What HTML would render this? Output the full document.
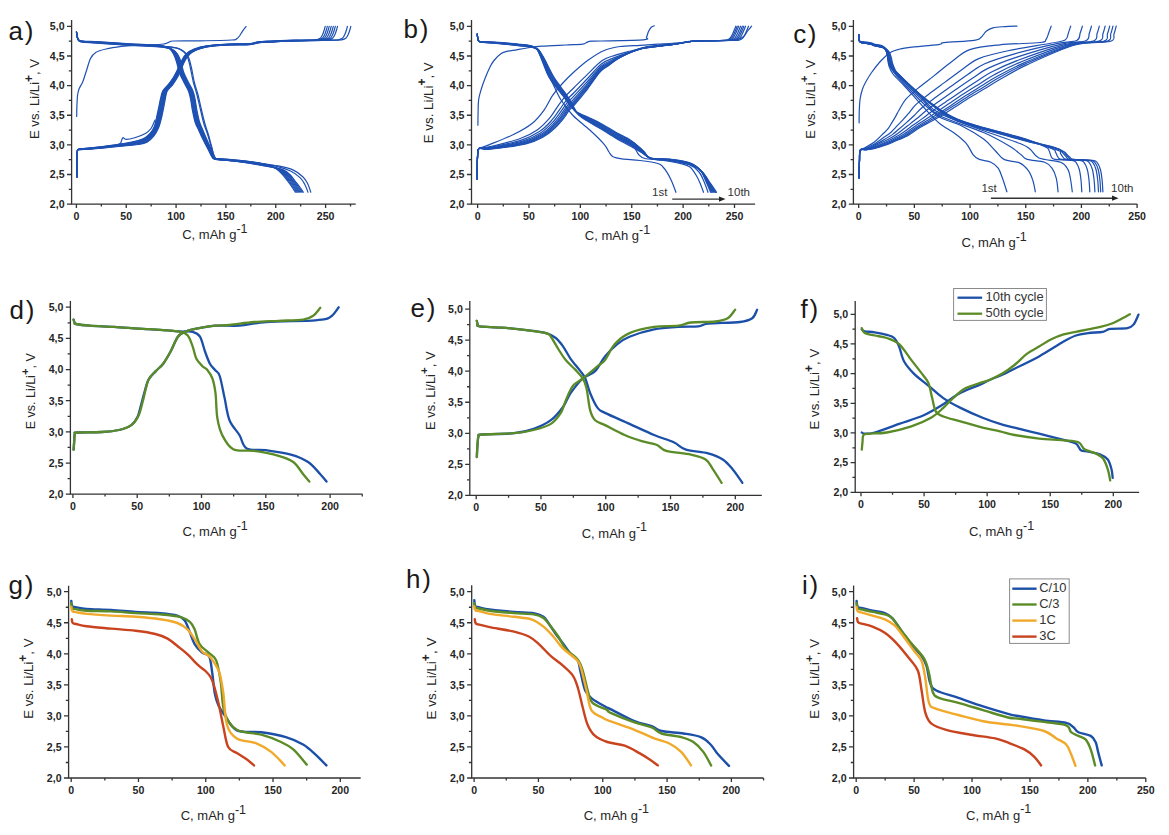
<!DOCTYPE html>
<html><head><meta charset="utf-8"><title>Figure</title>
<style>
html,body{margin:0;padding:0;background:#fff;}
body{width:1169px;height:835px;overflow:hidden;}
svg{display:block;font-family:"Liberation Sans",sans-serif;}
</style></head>
<body>
<svg width="1169" height="835" viewBox="0 0 1169 835">
<rect width="1169" height="835" fill="#fff"/>
<path d="M71.6 20 L71.6 204.1 L355.7 204.1" stroke="#333333" stroke-width="1.3" fill="none"/>
<text x="64.6" y="207.9" font-size="10.6" font-weight="bold" text-anchor="end" fill="#262626">2,0</text>
<text x="64.6" y="178.28" font-size="10.6" font-weight="bold" text-anchor="end" fill="#262626">2,5</text>
<text x="64.6" y="148.67" font-size="10.6" font-weight="bold" text-anchor="end" fill="#262626">3,0</text>
<text x="64.6" y="119.05" font-size="10.6" font-weight="bold" text-anchor="end" fill="#262626">3,5</text>
<text x="64.6" y="89.43" font-size="10.6" font-weight="bold" text-anchor="end" fill="#262626">4,0</text>
<text x="64.6" y="59.82" font-size="10.6" font-weight="bold" text-anchor="end" fill="#262626">4,5</text>
<text x="64.6" y="30.2" font-size="10.6" font-weight="bold" text-anchor="end" fill="#262626">5,0</text>
<text x="76.4" y="220" font-size="10.6" font-weight="bold" text-anchor="middle" fill="#262626">0</text>
<text x="126.24" y="220" font-size="10.6" font-weight="bold" text-anchor="middle" fill="#262626">50</text>
<text x="176.08" y="220" font-size="10.6" font-weight="bold" text-anchor="middle" fill="#262626">100</text>
<text x="225.92" y="220" font-size="10.6" font-weight="bold" text-anchor="middle" fill="#262626">150</text>
<text x="275.76" y="220" font-size="10.6" font-weight="bold" text-anchor="middle" fill="#262626">200</text>
<text x="325.6" y="220" font-size="10.6" font-weight="bold" text-anchor="middle" fill="#262626">250</text>
<path d="M67 204.1 H71.6 M68.8 189.29 H71.6 M67 174.48 H71.6 M68.8 159.67 H71.6 M67 144.87 H71.6 M68.8 130.06 H71.6 M67 115.25 H71.6 M68.8 100.44 H71.6 M67 85.63 H71.6 M68.8 70.83 H71.6 M67 56.02 H71.6 M68.8 41.21 H71.6 M67 26.4 H71.6 M76.4 204.1 V208 M126.24 204.1 V208 M176.08 204.1 V208 M225.92 204.1 V208 M275.76 204.1 V208 M325.6 204.1 V208 M101.32 204.1 V206.5 M151.16 204.1 V206.5 M201 204.1 V206.5 M250.84 204.1 V206.5 M300.68 204.1 V206.5 M350.52 204.1 V206.5" stroke="#333333" stroke-width="1.3" fill="none"/>
<text x="8.6" y="40.1" font-size="26" font-weight="normal" text-anchor="start" fill="#1a1a1a" letter-spacing="1.6">a)</text>
<text transform="translate(39.4 139.1) rotate(-90)" font-size="13.2" fill="#262626">E vs. Li/Li<tspan dy="-6.34" font-size="11.88" font-weight="bold">+</tspan><tspan dy="6.34">, V</tspan></text>
<text x="182.2" y="238.8" font-size="13" fill="#262626">C, mAh g<tspan dy="-6.3" font-size="12.5">-1</tspan></text>
<path d="M471.5 20 L471.5 204.1 L755.1 204.1" stroke="#333333" stroke-width="1.3" fill="none"/>
<text x="464.5" y="207.9" font-size="10.6" font-weight="bold" text-anchor="end" fill="#262626">2,0</text>
<text x="464.5" y="178.28" font-size="10.6" font-weight="bold" text-anchor="end" fill="#262626">2,5</text>
<text x="464.5" y="148.67" font-size="10.6" font-weight="bold" text-anchor="end" fill="#262626">3,0</text>
<text x="464.5" y="119.05" font-size="10.6" font-weight="bold" text-anchor="end" fill="#262626">3,5</text>
<text x="464.5" y="89.43" font-size="10.6" font-weight="bold" text-anchor="end" fill="#262626">4,0</text>
<text x="464.5" y="59.82" font-size="10.6" font-weight="bold" text-anchor="end" fill="#262626">4,5</text>
<text x="464.5" y="30.2" font-size="10.6" font-weight="bold" text-anchor="end" fill="#262626">5,0</text>
<text x="477.6" y="220" font-size="10.6" font-weight="bold" text-anchor="middle" fill="#262626">0</text>
<text x="528.98" y="220" font-size="10.6" font-weight="bold" text-anchor="middle" fill="#262626">50</text>
<text x="580.36" y="220" font-size="10.6" font-weight="bold" text-anchor="middle" fill="#262626">100</text>
<text x="631.74" y="220" font-size="10.6" font-weight="bold" text-anchor="middle" fill="#262626">150</text>
<text x="683.12" y="220" font-size="10.6" font-weight="bold" text-anchor="middle" fill="#262626">200</text>
<text x="734.5" y="220" font-size="10.6" font-weight="bold" text-anchor="middle" fill="#262626">250</text>
<path d="M466.9 204.1 H471.5 M468.7 189.29 H471.5 M466.9 174.48 H471.5 M468.7 159.67 H471.5 M466.9 144.87 H471.5 M468.7 130.06 H471.5 M466.9 115.25 H471.5 M468.7 100.44 H471.5 M466.9 85.63 H471.5 M468.7 70.83 H471.5 M466.9 56.02 H471.5 M468.7 41.21 H471.5 M466.9 26.4 H471.5 M477.6 204.1 V208 M528.98 204.1 V208 M580.36 204.1 V208 M631.74 204.1 V208 M683.12 204.1 V208 M734.5 204.1 V208 M503.29 204.1 V206.5 M554.67 204.1 V206.5 M606.05 204.1 V206.5 M657.43 204.1 V206.5 M708.81 204.1 V206.5" stroke="#333333" stroke-width="1.3" fill="none"/>
<text x="403.6" y="38" font-size="26" font-weight="normal" text-anchor="start" fill="#1a1a1a" letter-spacing="1.6">b)</text>
<text transform="translate(432.7 143.2) rotate(-90)" font-size="13.3" fill="#262626">E vs. Li/Li<tspan dy="-6.38" font-size="11.97" font-weight="bold">+</tspan><tspan dy="6.38">, V</tspan></text>
<text x="584.8" y="240" font-size="13" fill="#262626">C, mAh g<tspan dy="-6.3" font-size="12.5">-1</tspan></text>
<path d="M853.4 20 L853.4 204.1 L1137.1 204.1" stroke="#333333" stroke-width="1.3" fill="none"/>
<text x="846.4" y="207.9" font-size="10.6" font-weight="bold" text-anchor="end" fill="#262626">2,0</text>
<text x="846.4" y="178.28" font-size="10.6" font-weight="bold" text-anchor="end" fill="#262626">2,5</text>
<text x="846.4" y="148.67" font-size="10.6" font-weight="bold" text-anchor="end" fill="#262626">3,0</text>
<text x="846.4" y="119.05" font-size="10.6" font-weight="bold" text-anchor="end" fill="#262626">3,5</text>
<text x="846.4" y="89.43" font-size="10.6" font-weight="bold" text-anchor="end" fill="#262626">4,0</text>
<text x="846.4" y="59.82" font-size="10.6" font-weight="bold" text-anchor="end" fill="#262626">4,5</text>
<text x="846.4" y="30.2" font-size="10.6" font-weight="bold" text-anchor="end" fill="#262626">5,0</text>
<text x="858.7" y="220" font-size="10.6" font-weight="bold" text-anchor="middle" fill="#262626">0</text>
<text x="914.38" y="220" font-size="10.6" font-weight="bold" text-anchor="middle" fill="#262626">50</text>
<text x="970.06" y="220" font-size="10.6" font-weight="bold" text-anchor="middle" fill="#262626">100</text>
<text x="1025.74" y="220" font-size="10.6" font-weight="bold" text-anchor="middle" fill="#262626">150</text>
<text x="1081.42" y="220" font-size="10.6" font-weight="bold" text-anchor="middle" fill="#262626">200</text>
<text x="1137.1" y="220" font-size="10.6" font-weight="bold" text-anchor="middle" fill="#262626">250</text>
<path d="M848.8 204.1 H853.4 M850.6 189.29 H853.4 M848.8 174.48 H853.4 M850.6 159.67 H853.4 M848.8 144.87 H853.4 M850.6 130.06 H853.4 M848.8 115.25 H853.4 M850.6 100.44 H853.4 M848.8 85.63 H853.4 M850.6 70.83 H853.4 M848.8 56.02 H853.4 M850.6 41.21 H853.4 M848.8 26.4 H853.4 M858.7 204.1 V208 M914.38 204.1 V208 M970.06 204.1 V208 M1025.74 204.1 V208 M1081.42 204.1 V208 M1137.1 204.1 V208 M886.54 204.1 V206.5 M942.22 204.1 V206.5 M997.9 204.1 V206.5 M1053.58 204.1 V206.5 M1109.26 204.1 V206.5" stroke="#333333" stroke-width="1.3" fill="none"/>
<text x="793.2" y="43" font-size="26" font-weight="normal" text-anchor="start" fill="#1a1a1a" letter-spacing="1.6">c)</text>
<text transform="translate(814.6 138.7) rotate(-90)" font-size="13" fill="#262626">E vs. Li/Li<tspan dy="-6.24" font-size="11.7" font-weight="bold">+</tspan><tspan dy="6.24">, V</tspan></text>
<text x="961.5" y="246.9" font-size="13" fill="#262626">C, mAh g<tspan dy="-6.3" font-size="12.5">-1</tspan></text>
<path d="M70.4 301.1 L70.4 494.2 L362.6 494.2" stroke="#333333" stroke-width="1.3" fill="none"/>
<text x="63.4" y="498" font-size="10.6" font-weight="bold" text-anchor="end" fill="#262626">2,0</text>
<text x="63.4" y="466.83" font-size="10.6" font-weight="bold" text-anchor="end" fill="#262626">2,5</text>
<text x="63.4" y="435.67" font-size="10.6" font-weight="bold" text-anchor="end" fill="#262626">3,0</text>
<text x="63.4" y="404.5" font-size="10.6" font-weight="bold" text-anchor="end" fill="#262626">3,5</text>
<text x="63.4" y="373.33" font-size="10.6" font-weight="bold" text-anchor="end" fill="#262626">4,0</text>
<text x="63.4" y="342.17" font-size="10.6" font-weight="bold" text-anchor="end" fill="#262626">4,5</text>
<text x="63.4" y="311" font-size="10.6" font-weight="bold" text-anchor="end" fill="#262626">5,0</text>
<text x="72.9" y="510.1" font-size="10.6" font-weight="bold" text-anchor="middle" fill="#262626">0</text>
<text x="137.2" y="510.1" font-size="10.6" font-weight="bold" text-anchor="middle" fill="#262626">50</text>
<text x="201.5" y="510.1" font-size="10.6" font-weight="bold" text-anchor="middle" fill="#262626">100</text>
<text x="265.8" y="510.1" font-size="10.6" font-weight="bold" text-anchor="middle" fill="#262626">150</text>
<text x="330.1" y="510.1" font-size="10.6" font-weight="bold" text-anchor="middle" fill="#262626">200</text>
<path d="M65.8 494.2 H70.4 M67.6 478.62 H70.4 M65.8 463.03 H70.4 M67.6 447.45 H70.4 M65.8 431.87 H70.4 M67.6 416.28 H70.4 M65.8 400.7 H70.4 M67.6 385.12 H70.4 M65.8 369.53 H70.4 M67.6 353.95 H70.4 M65.8 338.37 H70.4 M67.6 322.78 H70.4 M65.8 307.2 H70.4 M72.9 494.2 V498.1 M137.2 494.2 V498.1 M201.5 494.2 V498.1 M265.8 494.2 V498.1 M330.1 494.2 V498.1 M105.05 494.2 V496.6 M169.35 494.2 V496.6 M233.65 494.2 V496.6 M297.95 494.2 V496.6 M362.25 494.2 V496.6" stroke="#333333" stroke-width="1.3" fill="none"/>
<text x="9.6" y="318.5" font-size="26" font-weight="normal" text-anchor="start" fill="#1a1a1a" letter-spacing="1.6">d)</text>
<text transform="translate(35 429.3) rotate(-90)" font-size="12.5" fill="#262626">E vs. Li/Li<tspan dy="-6" font-size="11.25" font-weight="bold">+</tspan><tspan dy="6">, V</tspan></text>
<text x="182.5" y="536.2" font-size="13" fill="#262626">C, mAh g<tspan dy="-6.3" font-size="12.5">-1</tspan></text>
<path d="M469.8 301.1 L469.8 495.4 L761.8 495.4" stroke="#333333" stroke-width="1.3" fill="none"/>
<text x="462.8" y="499.2" font-size="10.6" font-weight="bold" text-anchor="end" fill="#262626">2,0</text>
<text x="462.8" y="468.15" font-size="10.6" font-weight="bold" text-anchor="end" fill="#262626">2,5</text>
<text x="462.8" y="437.1" font-size="10.6" font-weight="bold" text-anchor="end" fill="#262626">3,0</text>
<text x="462.8" y="406.05" font-size="10.6" font-weight="bold" text-anchor="end" fill="#262626">3,5</text>
<text x="462.8" y="375" font-size="10.6" font-weight="bold" text-anchor="end" fill="#262626">4,0</text>
<text x="462.8" y="343.95" font-size="10.6" font-weight="bold" text-anchor="end" fill="#262626">4,5</text>
<text x="462.8" y="312.9" font-size="10.6" font-weight="bold" text-anchor="end" fill="#262626">5,0</text>
<text x="476.2" y="511.3" font-size="10.6" font-weight="bold" text-anchor="middle" fill="#262626">0</text>
<text x="540.98" y="511.3" font-size="10.6" font-weight="bold" text-anchor="middle" fill="#262626">50</text>
<text x="605.75" y="511.3" font-size="10.6" font-weight="bold" text-anchor="middle" fill="#262626">100</text>
<text x="670.52" y="511.3" font-size="10.6" font-weight="bold" text-anchor="middle" fill="#262626">150</text>
<text x="735.3" y="511.3" font-size="10.6" font-weight="bold" text-anchor="middle" fill="#262626">200</text>
<path d="M465.2 495.4 H469.8 M467 479.88 H469.8 M465.2 464.35 H469.8 M467 448.82 H469.8 M465.2 433.3 H469.8 M467 417.78 H469.8 M465.2 402.25 H469.8 M467 386.73 H469.8 M465.2 371.2 H469.8 M467 355.68 H469.8 M465.2 340.15 H469.8 M467 324.62 H469.8 M465.2 309.1 H469.8 M476.2 495.4 V499.3 M540.98 495.4 V499.3 M605.75 495.4 V499.3 M670.52 495.4 V499.3 M735.3 495.4 V499.3 M508.59 495.4 V497.8 M573.36 495.4 V497.8 M638.14 495.4 V497.8 M702.91 495.4 V497.8" stroke="#333333" stroke-width="1.3" fill="none"/>
<text x="410.6" y="316.5" font-size="26" font-weight="normal" text-anchor="start" fill="#1a1a1a" letter-spacing="1.6">e)</text>
<text transform="translate(434.6 429.9) rotate(-90)" font-size="12.9" fill="#262626">E vs. Li/Li<tspan dy="-6.19" font-size="11.61" font-weight="bold">+</tspan><tspan dy="6.19">, V</tspan></text>
<text x="581.7" y="537.5" font-size="13" fill="#262626">C, mAh g<tspan dy="-6.3" font-size="12.5">-1</tspan></text>
<path d="M855.2 301.1 L855.2 492.3 L1139.1 492.3" stroke="#333333" stroke-width="1.3" fill="none"/>
<text x="848.2" y="496.1" font-size="10.6" font-weight="bold" text-anchor="end" fill="#262626">2,0</text>
<text x="848.2" y="466.43" font-size="10.6" font-weight="bold" text-anchor="end" fill="#262626">2,5</text>
<text x="848.2" y="436.77" font-size="10.6" font-weight="bold" text-anchor="end" fill="#262626">3,0</text>
<text x="848.2" y="407.1" font-size="10.6" font-weight="bold" text-anchor="end" fill="#262626">3,5</text>
<text x="848.2" y="377.43" font-size="10.6" font-weight="bold" text-anchor="end" fill="#262626">4,0</text>
<text x="848.2" y="347.77" font-size="10.6" font-weight="bold" text-anchor="end" fill="#262626">4,5</text>
<text x="848.2" y="318.1" font-size="10.6" font-weight="bold" text-anchor="end" fill="#262626">5,0</text>
<text x="861" y="508.2" font-size="10.6" font-weight="bold" text-anchor="middle" fill="#262626">0</text>
<text x="924.08" y="508.2" font-size="10.6" font-weight="bold" text-anchor="middle" fill="#262626">50</text>
<text x="987.15" y="508.2" font-size="10.6" font-weight="bold" text-anchor="middle" fill="#262626">100</text>
<text x="1050.22" y="508.2" font-size="10.6" font-weight="bold" text-anchor="middle" fill="#262626">150</text>
<text x="1113.3" y="508.2" font-size="10.6" font-weight="bold" text-anchor="middle" fill="#262626">200</text>
<path d="M850.6 492.3 H855.2 M852.4 477.47 H855.2 M850.6 462.63 H855.2 M852.4 447.8 H855.2 M850.6 432.97 H855.2 M852.4 418.13 H855.2 M850.6 403.3 H855.2 M852.4 388.47 H855.2 M850.6 373.63 H855.2 M852.4 358.8 H855.2 M850.6 343.97 H855.2 M852.4 329.13 H855.2 M850.6 314.3 H855.2 M861 492.3 V496.2 M924.08 492.3 V496.2 M987.15 492.3 V496.2 M1050.22 492.3 V496.2 M1113.3 492.3 V496.2 M892.54 492.3 V494.7 M955.61 492.3 V494.7 M1018.69 492.3 V494.7 M1081.76 492.3 V494.7" stroke="#333333" stroke-width="1.3" fill="none"/>
<text x="800.6" y="318.2" font-size="26" font-weight="normal" text-anchor="start" fill="#1a1a1a" letter-spacing="1.6">f)</text>
<text transform="translate(819.2 429.4) rotate(-90)" font-size="13.25" fill="#262626">E vs. Li/Li<tspan dy="-6.36" font-size="11.93" font-weight="bold">+</tspan><tspan dy="6.36">, V</tspan></text>
<text x="968.9" y="536" font-size="13" fill="#262626">C, mAh g<tspan dy="-6.3" font-size="12.5">-1</tspan></text>
<path d="M68.6 585.8 L68.6 778 L360.7 778" stroke="#333333" stroke-width="1.3" fill="none"/>
<text x="61.6" y="781.8" font-size="10.6" font-weight="bold" text-anchor="end" fill="#262626">2,0</text>
<text x="61.6" y="750.75" font-size="10.6" font-weight="bold" text-anchor="end" fill="#262626">2,5</text>
<text x="61.6" y="719.7" font-size="10.6" font-weight="bold" text-anchor="end" fill="#262626">3,0</text>
<text x="61.6" y="688.65" font-size="10.6" font-weight="bold" text-anchor="end" fill="#262626">3,5</text>
<text x="61.6" y="657.6" font-size="10.6" font-weight="bold" text-anchor="end" fill="#262626">4,0</text>
<text x="61.6" y="626.55" font-size="10.6" font-weight="bold" text-anchor="end" fill="#262626">4,5</text>
<text x="61.6" y="595.5" font-size="10.6" font-weight="bold" text-anchor="end" fill="#262626">5,0</text>
<text x="71.2" y="793.9" font-size="10.6" font-weight="bold" text-anchor="middle" fill="#262626">0</text>
<text x="138.47" y="793.9" font-size="10.6" font-weight="bold" text-anchor="middle" fill="#262626">50</text>
<text x="205.75" y="793.9" font-size="10.6" font-weight="bold" text-anchor="middle" fill="#262626">100</text>
<text x="273.02" y="793.9" font-size="10.6" font-weight="bold" text-anchor="middle" fill="#262626">150</text>
<text x="340.3" y="793.9" font-size="10.6" font-weight="bold" text-anchor="middle" fill="#262626">200</text>
<path d="M64 778 H68.6 M65.8 762.48 H68.6 M64 746.95 H68.6 M65.8 731.43 H68.6 M64 715.9 H68.6 M65.8 700.38 H68.6 M64 684.85 H68.6 M65.8 669.33 H68.6 M64 653.8 H68.6 M65.8 638.28 H68.6 M64 622.75 H68.6 M65.8 607.23 H68.6 M64 591.7 H68.6 M71.2 778 V781.9 M138.47 778 V781.9 M205.75 778 V781.9 M273.02 778 V781.9 M340.3 778 V781.9 M104.84 778 V780.4 M172.11 778 V780.4 M239.39 778 V780.4 M306.66 778 V780.4" stroke="#333333" stroke-width="1.3" fill="none"/>
<text x="8.6" y="594.1" font-size="26" font-weight="normal" text-anchor="start" fill="#1a1a1a" letter-spacing="1.6">g)</text>
<text transform="translate(33.2 718.8) rotate(-90)" font-size="13.2" fill="#262626">E vs. Li/Li<tspan dy="-6.34" font-size="11.88" font-weight="bold">+</tspan><tspan dy="6.34">, V</tspan></text>
<text x="180.7" y="820" font-size="13" fill="#262626">C, mAh g<tspan dy="-6.3" font-size="12.5">-1</tspan></text>
<path d="M471.7 585.3 L471.7 778 L763.5 778" stroke="#333333" stroke-width="1.3" fill="none"/>
<text x="464.7" y="781.8" font-size="10.6" font-weight="bold" text-anchor="end" fill="#262626">2,0</text>
<text x="464.7" y="750.75" font-size="10.6" font-weight="bold" text-anchor="end" fill="#262626">2,5</text>
<text x="464.7" y="719.7" font-size="10.6" font-weight="bold" text-anchor="end" fill="#262626">3,0</text>
<text x="464.7" y="688.65" font-size="10.6" font-weight="bold" text-anchor="end" fill="#262626">3,5</text>
<text x="464.7" y="657.6" font-size="10.6" font-weight="bold" text-anchor="end" fill="#262626">4,0</text>
<text x="464.7" y="626.55" font-size="10.6" font-weight="bold" text-anchor="end" fill="#262626">4,5</text>
<text x="464.7" y="595.5" font-size="10.6" font-weight="bold" text-anchor="end" fill="#262626">5,0</text>
<text x="474.1" y="793.9" font-size="10.6" font-weight="bold" text-anchor="middle" fill="#262626">0</text>
<text x="538.43" y="793.9" font-size="10.6" font-weight="bold" text-anchor="middle" fill="#262626">50</text>
<text x="602.75" y="793.9" font-size="10.6" font-weight="bold" text-anchor="middle" fill="#262626">100</text>
<text x="667.08" y="793.9" font-size="10.6" font-weight="bold" text-anchor="middle" fill="#262626">150</text>
<text x="731.4" y="793.9" font-size="10.6" font-weight="bold" text-anchor="middle" fill="#262626">200</text>
<path d="M467.1 778 H471.7 M468.9 762.48 H471.7 M467.1 746.95 H471.7 M468.9 731.43 H471.7 M467.1 715.9 H471.7 M468.9 700.38 H471.7 M467.1 684.85 H471.7 M468.9 669.33 H471.7 M467.1 653.8 H471.7 M468.9 638.28 H471.7 M467.1 622.75 H471.7 M468.9 607.23 H471.7 M467.1 591.7 H471.7 M474.1 778 V781.9 M538.43 778 V781.9 M602.75 778 V781.9 M667.08 778 V781.9 M731.4 778 V781.9 M506.26 778 V780.4 M570.59 778 V780.4 M634.91 778 V780.4 M699.24 778 V780.4 M763.56 778 V780.4" stroke="#333333" stroke-width="1.3" fill="none"/>
<text x="406.1" y="588" font-size="26" font-weight="normal" text-anchor="start" fill="#1a1a1a" letter-spacing="1.6">h)</text>
<text transform="translate(436.4 719.4) rotate(-90)" font-size="13.45" fill="#262626">E vs. Li/Li<tspan dy="-6.46" font-size="12.11" font-weight="bold">+</tspan><tspan dy="6.46">, V</tspan></text>
<text x="583.7" y="819.7" font-size="13" fill="#262626">C, mAh g<tspan dy="-6.3" font-size="12.5">-1</tspan></text>
<path d="M853.6 585.6 L853.6 778 L1145.8 778" stroke="#333333" stroke-width="1.3" fill="none"/>
<text x="846.6" y="781.8" font-size="10.6" font-weight="bold" text-anchor="end" fill="#262626">2,0</text>
<text x="846.6" y="750.75" font-size="10.6" font-weight="bold" text-anchor="end" fill="#262626">2,5</text>
<text x="846.6" y="719.7" font-size="10.6" font-weight="bold" text-anchor="end" fill="#262626">3,0</text>
<text x="846.6" y="688.65" font-size="10.6" font-weight="bold" text-anchor="end" fill="#262626">3,5</text>
<text x="846.6" y="657.6" font-size="10.6" font-weight="bold" text-anchor="end" fill="#262626">4,0</text>
<text x="846.6" y="626.55" font-size="10.6" font-weight="bold" text-anchor="end" fill="#262626">4,5</text>
<text x="846.6" y="595.5" font-size="10.6" font-weight="bold" text-anchor="end" fill="#262626">5,0</text>
<text x="856.2" y="793.9" font-size="10.6" font-weight="bold" text-anchor="middle" fill="#262626">0</text>
<text x="914.12" y="793.9" font-size="10.6" font-weight="bold" text-anchor="middle" fill="#262626">50</text>
<text x="972.04" y="793.9" font-size="10.6" font-weight="bold" text-anchor="middle" fill="#262626">100</text>
<text x="1029.96" y="793.9" font-size="10.6" font-weight="bold" text-anchor="middle" fill="#262626">150</text>
<text x="1087.88" y="793.9" font-size="10.6" font-weight="bold" text-anchor="middle" fill="#262626">200</text>
<text x="1145.8" y="793.9" font-size="10.6" font-weight="bold" text-anchor="middle" fill="#262626">250</text>
<path d="M849 778 H853.6 M850.8 762.48 H853.6 M849 746.95 H853.6 M850.8 731.43 H853.6 M849 715.9 H853.6 M850.8 700.38 H853.6 M849 684.85 H853.6 M850.8 669.33 H853.6 M849 653.8 H853.6 M850.8 638.28 H853.6 M849 622.75 H853.6 M850.8 607.23 H853.6 M849 591.7 H853.6 M856.2 778 V781.9 M914.12 778 V781.9 M972.04 778 V781.9 M1029.96 778 V781.9 M1087.88 778 V781.9 M1145.8 778 V781.9 M885.16 778 V780.4 M943.08 778 V780.4 M1001 778 V780.4 M1058.92 778 V780.4 M1116.84 778 V780.4" stroke="#333333" stroke-width="1.3" fill="none"/>
<text x="802.1" y="594.1" font-size="26" font-weight="normal" text-anchor="start" fill="#1a1a1a" letter-spacing="1.6">i)</text>
<text transform="translate(819 718.8) rotate(-90)" font-size="13.1" fill="#262626">E vs. Li/Li<tspan dy="-6.29" font-size="11.79" font-weight="bold">+</tspan><tspan dy="6.29">, V</tspan></text>
<text x="966" y="819.7" font-size="13" fill="#262626">C, mAh g<tspan dy="-6.3" font-size="12.5">-1</tspan></text>
<path d="M76.5 31.8 C76.62 32.67 76.78 35.6 77.2 37 C77.62 38.4 78.03 39.52 79 40.2 C79.97 40.88 79.5 40.83 83 41.1 C86.5 41.38 92.17 41.39 100 41.85 C107.83 42.31 121.67 43.37 130 43.85 C138.33 44.33 144.48 44.42 150 44.75 C155.52 45.08 159.85 45.23 163.1 45.85 C166.35 46.48 167.77 47.14 169.5 48.5 C171.23 49.86 172.32 51.75 173.5 54 C174.68 56.25 175.59 58.92 176.55 62 C177.51 65.08 178.05 69.17 179.25 72.5 C180.45 75.83 182.25 79 183.75 82 C185.25 85 187.13 87.77 188.25 90.5 C189.37 93.23 189.77 95.15 190.45 98.4 C191.13 101.65 191.58 106.07 192.35 110 C193.12 113.93 194.04 118.75 195.05 122 C196.06 125.25 197.33 127.08 198.4 129.5 C199.47 131.92 199.78 133 201.5 136.5 C203.22 140 206.77 146.89 208.7 150.5 C210.63 154.11 211.22 156.78 213.1 158.15 C214.98 159.52 215.72 158.35 220 158.7 C224.28 159.05 232.53 159.6 238.8 160.25 C245.07 160.9 252.86 161.88 257.6 162.6 C262.34 163.32 264.68 163.89 267.25 164.6 C269.82 165.31 271.33 166.02 273 166.85 C274.67 167.68 275.74 168.33 277.25 169.55 C278.76 170.78 280.33 172.29 282.05 174.2 C283.77 176.11 285.96 178.95 287.55 181 C289.14 183.05 290.31 184.63 291.6 186.5 C292.89 188.37 294.68 191.25 295.3 192.2" stroke="#1d50b2" stroke-width="1.2" fill="none" stroke-linejoin="round" stroke-linecap="round"/>
<path d="M76.5 31.8 C76.62 32.67 76.78 35.59 77.2 37 C77.62 38.41 78.03 39.58 79 40.29 C79.97 40.99 79.5 40.95 83 41.24 C86.5 41.54 92.17 41.59 100 42.06 C107.83 42.53 121.67 43.58 130 44.06 C138.33 44.55 144.46 44.63 150 44.96 C155.54 45.3 159.92 45.45 163.24 46.06 C166.56 46.68 168.12 47.32 169.93 48.64 C171.73 49.97 172.86 51.77 174.07 54 C175.28 56.23 176.22 58.92 177.19 62 C178.16 65.08 178.69 69.17 179.89 72.5 C181.09 75.83 182.89 79 184.39 82 C185.89 85 187.78 87.77 188.89 90.5 C190.01 93.23 190.41 95.15 191.09 98.4 C191.78 101.65 192.23 106.07 192.99 110 C193.76 113.93 194.69 118.75 195.69 122 C196.69 125.25 197.94 127.08 199 129.5 C200.06 131.92 200.38 133 202.07 136.5 C203.76 140 207.27 146.88 209.13 150.5 C210.99 154.12 211.43 156.83 213.24 158.22 C215.05 159.61 215.74 158.47 220 158.84 C224.26 159.22 232.53 159.79 238.8 160.46 C245.07 161.14 252.82 162.15 257.6 162.89 C262.38 163.62 264.8 164.19 267.46 164.89 C270.13 165.58 271.79 166.28 273.57 167.06 C275.36 167.85 276.59 168.43 278.18 169.62 C279.77 170.81 281.38 172.3 283.12 174.2 C284.86 176.1 287.02 178.95 288.62 181 C290.22 183.05 291.41 184.63 292.71 186.5 C294.02 188.37 295.82 191.25 296.44 192.2" stroke="#1d50b2" stroke-width="1.2" fill="none" stroke-linejoin="round" stroke-linecap="round"/>
<path d="M76.5 31.8 C76.62 32.67 76.78 35.57 77.2 37 C77.62 38.43 78.03 39.64 79 40.37 C79.97 41.1 79.5 41.07 83 41.39 C86.5 41.7 92.17 41.8 100 42.28 C107.83 42.76 121.67 43.8 130 44.28 C138.33 44.76 144.44 44.85 150 45.18 C155.56 45.51 159.99 45.68 163.39 46.28 C166.78 46.88 168.48 47.5 170.36 48.79 C172.23 50.07 173.4 51.8 174.64 54 C175.89 56.2 176.85 58.92 177.84 62 C178.82 65.08 179.34 69.17 180.54 72.5 C181.74 75.83 183.54 79 185.04 82 C186.54 85 188.42 87.77 189.54 90.5 C190.65 93.23 191.05 95.15 191.74 98.4 C192.42 101.65 192.87 106.07 193.64 110 C194.4 113.93 195.34 118.75 196.34 122 C197.33 125.25 198.55 127.08 199.6 129.5 C200.65 131.92 200.98 133 202.64 136.5 C204.3 140 207.77 146.87 209.56 150.5 C211.35 154.13 211.65 156.88 213.39 158.29 C215.13 159.71 215.76 158.59 220 158.99 C224.24 159.38 232.53 159.98 238.8 160.68 C245.07 161.38 252.79 162.42 257.6 163.17 C262.41 163.92 264.92 164.49 267.68 165.17 C270.44 165.86 272.24 166.52 274.14 167.28 C276.05 168.03 277.43 168.54 279.11 169.69 C280.78 170.85 282.43 172.32 284.19 174.2 C285.96 176.08 288.09 178.95 289.69 181 C291.3 183.05 292.51 184.63 293.83 186.5 C295.14 188.37 296.96 191.25 297.59 192.2" stroke="#1d50b2" stroke-width="1.2" fill="none" stroke-linejoin="round" stroke-linecap="round"/>
<path d="M76.5 31.8 C76.62 32.67 76.78 35.56 77.2 37 C77.62 38.44 78.03 39.7 79 40.46 C79.97 41.21 79.5 41.19 83 41.53 C86.5 41.87 92.17 42 100 42.49 C107.83 42.99 121.67 44.01 130 44.49 C138.33 44.98 144.41 45.06 150 45.39 C155.59 45.73 160.06 45.9 163.53 46.49 C166.99 47.08 168.84 47.68 170.79 48.93 C172.73 50.18 173.93 51.82 175.21 54 C176.5 56.18 177.48 58.92 178.48 62 C179.47 65.08 179.98 69.17 181.18 72.5 C182.38 75.83 184.18 79 185.68 82 C187.18 85 189.06 87.77 190.18 90.5 C191.3 93.23 191.7 95.15 192.38 98.4 C193.06 101.65 193.51 106.07 194.28 110 C195.05 113.93 195.99 118.75 196.98 122 C197.97 125.25 199.16 127.08 200.2 129.5 C201.24 131.92 201.58 133 203.21 136.5 C204.85 140 208.27 146.86 209.99 150.5 C211.7 154.14 211.86 156.93 213.53 158.36 C215.2 159.8 215.79 158.71 220 159.13 C224.21 159.55 232.53 160.17 238.8 160.89 C245.07 161.61 252.75 162.7 257.6 163.46 C262.45 164.22 265.04 164.78 267.89 165.46 C270.75 166.13 272.69 166.77 274.71 167.49 C276.74 168.21 278.28 168.65 280.04 169.76 C281.79 170.88 283.48 172.33 285.26 174.2 C287.05 176.07 289.15 178.95 290.76 181 C292.38 183.05 293.62 184.63 294.94 186.5 C296.27 188.37 298.1 191.25 298.73 192.2" stroke="#1d50b2" stroke-width="1.2" fill="none" stroke-linejoin="round" stroke-linecap="round"/>
<path d="M76.5 31.8 C76.62 32.67 76.78 35.54 77.2 37 C77.62 38.46 78.03 39.76 79 40.54 C79.97 41.32 79.5 41.31 83 41.67 C86.5 42.03 92.17 42.2 100 42.71 C107.83 43.21 121.67 44.22 130 44.71 C138.33 45.19 144.39 45.27 150 45.61 C155.61 45.94 160.14 46.13 163.67 46.71 C167.21 47.28 169.2 47.86 171.21 49.07 C173.23 50.29 174.47 51.85 175.79 54 C177.1 56.15 178.12 58.92 179.12 62 C180.13 65.08 180.62 69.17 181.82 72.5 C183.02 75.83 184.82 79 186.32 82 C187.82 85 189.7 87.77 190.82 90.5 C191.94 93.23 192.34 95.15 193.02 98.4 C193.7 101.65 194.15 106.07 194.92 110 C195.69 113.93 196.64 118.75 197.62 122 C198.6 125.25 199.77 127.08 200.8 129.5 C201.83 131.92 202.18 133 203.79 136.5 C205.39 140 208.77 146.84 210.41 150.5 C212.06 154.16 212.07 156.97 213.67 158.44 C215.27 159.9 215.81 158.83 220 159.27 C224.19 159.72 232.53 160.36 238.8 161.11 C245.07 161.85 252.72 162.97 257.6 163.74 C262.48 164.52 265.16 165.08 268.11 165.74 C271.05 166.4 273.14 167.03 275.29 167.71 C277.43 168.39 279.12 168.75 280.96 169.84 C282.81 170.92 284.52 172.34 286.34 174.2 C288.15 176.06 290.22 178.95 291.84 181 C293.46 183.05 294.72 184.63 296.06 186.5 C297.4 188.37 299.24 191.25 299.87 192.2" stroke="#1d50b2" stroke-width="1.2" fill="none" stroke-linejoin="round" stroke-linecap="round"/>
<path d="M76.5 31.8 C76.62 32.67 76.78 35.53 77.2 37 C77.62 38.47 78.03 39.83 79 40.63 C79.97 41.43 79.5 41.43 83 41.81 C86.5 42.2 92.17 42.4 100 42.92 C107.83 43.44 121.67 44.44 130 44.92 C138.33 45.4 144.36 45.49 150 45.82 C155.64 46.15 160.21 46.36 163.81 46.92 C167.42 47.49 169.55 48.03 171.64 49.21 C173.73 50.39 175 51.87 176.36 54 C177.71 56.13 178.75 58.92 179.76 62 C180.78 65.08 181.26 69.17 182.46 72.5 C183.66 75.83 185.46 79 186.96 82 C188.46 85 190.35 87.77 191.46 90.5 C192.58 93.23 192.98 95.15 193.66 98.4 C194.35 101.65 194.8 106.07 195.56 110 C196.33 113.93 197.29 118.75 198.26 122 C199.24 125.25 200.38 127.08 201.4 129.5 C202.42 131.92 202.78 133 204.36 136.5 C205.93 140 209.27 146.83 210.84 150.5 C212.42 154.17 212.29 157.02 213.81 158.51 C215.34 159.99 215.84 158.95 220 159.41 C224.16 159.88 232.53 160.55 238.8 161.32 C245.07 162.09 252.68 163.24 257.6 164.03 C262.52 164.81 265.28 165.38 268.32 166.03 C271.36 166.68 273.6 167.28 275.86 167.92 C278.12 168.57 279.97 168.86 281.89 169.91 C283.82 170.95 285.57 172.35 287.41 174.2 C289.24 176.05 291.28 178.95 292.91 181 C294.53 183.05 295.82 184.63 297.17 186.5 C298.52 188.37 300.37 191.25 301.01 192.2" stroke="#1d50b2" stroke-width="1.2" fill="none" stroke-linejoin="round" stroke-linecap="round"/>
<path d="M76.5 31.8 C76.62 32.67 76.78 35.51 77.2 37 C77.62 38.49 78.03 39.89 79 40.71 C79.97 41.54 79.5 41.55 83 41.96 C86.5 42.36 92.17 42.61 100 43.14 C107.83 43.67 121.67 44.65 130 45.14 C138.33 45.62 144.34 45.7 150 46.04 C155.66 46.37 160.28 46.58 163.96 47.14 C167.64 47.69 169.91 48.21 172.07 49.36 C174.23 50.5 175.54 51.89 176.93 54 C178.32 56.11 179.38 58.92 180.41 62 C181.44 65.08 181.91 69.17 183.11 72.5 C184.31 75.83 186.11 79 187.61 82 C189.11 85 190.99 87.77 192.11 90.5 C193.22 93.23 193.62 95.15 194.31 98.4 C194.99 101.65 195.44 106.07 196.21 110 C196.97 113.93 197.94 118.75 198.91 122 C199.87 125.25 201 127.08 202 129.5 C203 131.92 203.38 133 204.93 136.5 C206.47 140 209.77 146.82 211.27 150.5 C212.78 154.18 212.5 157.07 213.96 158.58 C215.41 160.09 215.86 159.06 220 159.56 C224.14 160.05 232.53 160.74 238.8 161.54 C245.07 162.33 252.64 163.52 257.6 164.31 C262.56 165.11 265.4 165.68 268.54 166.31 C271.67 166.95 274.05 167.52 276.43 168.14 C278.81 168.75 280.81 168.97 282.82 169.98 C284.83 170.99 286.62 172.36 288.48 174.2 C290.34 176.04 292.34 178.95 293.98 181 C295.61 183.05 296.92 184.63 298.29 186.5 C299.65 188.37 301.51 191.25 302.16 192.2" stroke="#1d50b2" stroke-width="1.2" fill="none" stroke-linejoin="round" stroke-linecap="round"/>
<path d="M76.5 31.8 C76.62 32.67 76.78 35.5 77.2 37 C77.62 38.5 78.03 39.95 79 40.8 C79.97 41.65 79.5 41.67 83 42.1 C86.5 42.53 92.17 42.81 100 43.35 C107.83 43.89 121.67 44.87 130 45.35 C138.33 45.83 144.32 45.92 150 46.25 C155.68 46.58 160.35 46.81 164.1 47.35 C167.85 47.89 170.27 48.39 172.5 49.5 C174.73 50.61 176.07 51.92 177.5 54 C178.93 56.08 180.01 58.92 181.05 62 C182.09 65.08 182.55 69.17 183.75 72.5 C184.95 75.83 186.75 79 188.25 82 C189.75 85 191.63 87.77 192.75 90.5 C193.87 93.23 194.27 95.15 194.95 98.4 C195.63 101.65 196.08 106.07 196.85 110 C197.62 113.93 198.59 118.75 199.55 122 C200.51 125.25 201.61 127.08 202.6 129.5 C203.59 131.92 203.98 133 205.5 136.5 C207.02 140 210.27 146.81 211.7 150.5 C213.13 154.19 212.72 157.12 214.1 158.65 C215.48 160.18 215.88 159.18 220 159.7 C224.12 160.22 232.53 160.93 238.8 161.75 C245.07 162.57 252.61 163.79 257.6 164.6 C262.59 165.41 265.52 165.97 268.75 166.6 C271.98 167.22 274.5 167.77 277 168.35 C279.5 168.93 281.66 169.08 283.75 170.05 C285.84 171.03 287.67 172.38 289.55 174.2 C291.43 176.02 293.41 178.95 295.05 181 C296.69 183.05 298.02 184.63 299.4 186.5 C300.77 188.37 302.65 191.25 303.3 192.2" stroke="#1d50b2" stroke-width="1.2" fill="none" stroke-linejoin="round" stroke-linecap="round"/>
<path d="M163.6 46.5 C165 46.58 169.48 46.65 172 47 C174.52 47.35 176.7 47.77 178.7 48.6 C180.7 49.43 182.53 50.6 184 52 C185.47 53.4 186.47 54.5 187.5 57 C188.53 59.5 189.23 62.83 190.2 67 C191.17 71.17 192.25 77.67 193.3 82 C194.35 86.33 195.33 88.5 196.5 93 C197.67 97.5 199.08 103.92 200.3 109 C201.52 114.08 202.6 119.33 203.8 123.5 C205 127.67 206.3 130.25 207.5 134 C208.7 137.75 209.92 142.33 211 146 C212.08 149.67 212.83 153.77 214 156 C215.17 158.23 214.67 158.67 218 159.4 C221.33 160.13 227.33 159.73 234 160.4 C240.67 161.07 250.93 162.42 258 163.4 C265.07 164.38 270.97 165.03 276.4 166.3 C281.83 167.57 286.67 169.12 290.6 171 C294.53 172.88 297.65 175.4 300 177.6 C302.35 179.8 303.37 181.77 304.7 184.2 C306.03 186.63 307.45 190.87 308 192.2" stroke="#1d50b2" stroke-width="1.2" fill="none" stroke-linejoin="round" stroke-linecap="round"/>
<path d="M163.6 46.5 C165 46.63 169.35 46.88 172 47.3 C174.65 47.72 177.33 48.13 179.5 49 C181.67 49.87 183.45 51 185 52.5 C186.55 54 187.72 55.42 188.8 58 C189.88 60.58 190.55 63.83 191.5 68 C192.45 72.17 193.45 78.67 194.5 83 C195.55 87.33 196.63 89.5 197.8 94 C198.97 98.5 200.3 105 201.5 110 C202.7 115 203.83 119.83 205 124 C206.17 128.17 207.42 131.33 208.5 135 C209.58 138.67 210.53 142.5 211.5 146 C212.47 149.5 213.22 153.73 214.3 156 C215.38 158.27 214.72 158.83 218 159.6 C221.28 160.37 227.33 160 234 160.6 C240.67 161.2 250.62 162.32 258 163.2 C265.38 164.08 272.4 164.75 278.3 165.9 C284.2 167.05 289.32 168.3 293.4 170.1 C297.48 171.9 300.45 174.5 302.8 176.7 C305.15 178.9 306.17 180.72 307.5 183.3 C308.83 185.88 310.25 190.72 310.8 192.2" stroke="#1d50b2" stroke-width="1.2" fill="none" stroke-linejoin="round" stroke-linecap="round"/>
<path d="M77.1 177 C77.1 174.17 77.05 164.33 77.1 160 C77.15 155.67 77.08 152.82 77.4 151 C77.72 149.18 76.9 149.62 79 149.1 C81.1 148.58 86.12 148.32 90 147.9 C93.88 147.48 96.65 147.28 102.3 146.55 C107.95 145.82 117.95 144.51 123.9 143.5 C129.85 142.49 134.48 141.46 138 140.5 C141.52 139.54 142.99 138.92 145 137.75 C147.01 136.58 148.51 135.33 150.05 133.5 C151.59 131.67 153.11 129.67 154.25 126.75 C155.39 123.83 156.11 119.46 156.9 116 C157.69 112.54 158.38 108.93 159 106 C159.62 103.07 159.97 100.9 160.6 98.4 C161.22 95.9 161.44 93.35 162.75 91 C164.06 88.65 166.66 86.58 168.45 84.3 C170.24 82.02 171.98 79.75 173.5 77.3 C175.02 74.85 176.35 72.04 177.55 69.6 C178.75 67.16 179.62 64.83 180.7 62.65 C181.77 60.47 182.59 58.38 184 56.5 C185.41 54.62 186.48 52.95 189.15 51.4 C191.82 49.85 195.88 48.27 200 47.2 C204.12 46.13 208.9 45.53 213.9 45 C218.9 44.47 223.98 44.23 230 44 C236.02 43.77 245.67 43.88 250 43.6 C254.33 43.32 254 42.65 256 42.3 C258 41.95 259.67 41.7 262 41.5 C264.33 41.3 264.5 41.32 270 41.1 C275.5 40.88 288.63 40.32 295 40.2 C301.37 40.08 304.67 40.47 308.2 40.4 C311.73 40.33 314.2 40.15 316.2 39.8 C318.2 39.45 319.13 39.18 320.2 38.3 C321.27 37.42 321.93 35.88 322.6 34.5 C323.27 33.12 323.77 31.35 324.2 30 C324.63 28.65 325.03 27 325.2 26.4" stroke="#1d50b2" stroke-width="1.2" fill="none" stroke-linejoin="round" stroke-linecap="round"/>
<path d="M77.1 177 C77.1 174.17 77.05 164.33 77.1 160 C77.15 155.67 77.08 152.8 77.4 151 C77.72 149.2 76.9 149.67 79 149.18 C81.1 148.68 86.12 148.46 90 148.05 C93.88 147.64 96.65 147.45 102.3 146.74 C107.95 146.03 117.95 144.76 123.9 143.8 C129.85 142.84 134.44 141.91 138 141 C141.56 140.09 143.17 139.5 145.25 138.31 C147.33 137.12 148.89 135.79 150.49 133.88 C152.08 131.96 153.64 129.79 154.81 126.81 C155.99 123.83 156.72 119.47 157.53 116 C158.33 112.53 159.01 108.93 159.62 106 C160.24 103.07 160.59 100.9 161.2 98.4 C161.81 95.9 162.01 93.35 163.31 91 C164.61 88.65 167.23 86.58 169.01 84.3 C170.79 82.02 172.5 79.75 174 77.3 C175.5 74.85 176.81 72.03 177.99 69.6 C179.17 67.17 180.01 64.88 181.07 62.71 C182.14 60.55 182.98 58.49 184.38 56.62 C185.77 54.76 186.84 53.1 189.46 51.55 C192.09 50 196.05 48.42 200.12 47.35 C204.2 46.28 208.92 45.66 213.9 45.12 C218.88 44.59 223.98 44.36 230 44.12 C236.02 43.89 245.67 44.01 250 43.73 C254.33 43.44 254 42.77 256 42.42 C258 42.07 259.67 41.83 262 41.62 C264.33 41.42 264.5 41.45 270 41.23 C275.5 41 288.28 40.44 295 40.3 C301.72 40.16 306.42 40.46 310.3 40.38 C314.18 40.29 316.3 40.15 318.3 39.8 C320.3 39.45 321.23 39.18 322.3 38.3 C323.37 37.42 324.03 35.88 324.7 34.5 C325.37 33.12 325.87 31.35 326.3 30 C326.73 28.65 327.13 27 327.3 26.4" stroke="#1d50b2" stroke-width="1.2" fill="none" stroke-linejoin="round" stroke-linecap="round"/>
<path d="M77.1 177 C77.1 174.17 77.05 164.33 77.1 160 C77.15 155.67 77.08 152.79 77.4 151 C77.72 149.21 76.9 149.72 79 149.25 C81.1 148.78 86.12 148.59 90 148.2 C93.88 147.81 96.65 147.61 102.3 146.93 C107.95 146.24 117.95 145 123.9 144.1 C129.85 143.2 134.4 142.37 138 141.5 C141.6 140.63 143.35 140.08 145.5 138.88 C147.65 137.67 149.28 136.25 150.93 134.25 C152.57 132.25 154.17 129.92 155.38 126.88 C156.58 123.83 157.34 119.48 158.15 116 C158.96 112.52 159.64 108.93 160.25 106 C160.86 103.07 161.2 100.9 161.8 98.4 C162.4 95.9 162.58 93.35 163.88 91 C165.17 88.65 167.8 86.58 169.57 84.3 C171.35 82.02 173.03 79.75 174.5 77.3 C175.97 74.85 177.27 72.02 178.43 69.6 C179.58 67.18 180.4 64.92 181.45 62.77 C182.5 60.63 183.36 58.6 184.75 56.75 C186.14 54.9 187.19 53.24 189.78 51.7 C192.36 50.16 196.23 48.58 200.25 47.5 C204.27 46.42 208.94 45.79 213.9 45.25 C218.86 44.71 223.98 44.48 230 44.25 C236.02 44.02 245.67 44.13 250 43.85 C254.33 43.57 254 42.9 256 42.55 C258 42.2 259.67 41.95 262 41.75 C264.33 41.55 264.5 41.58 270 41.35 C275.5 41.12 287.97 40.57 295 40.4 C302.03 40.23 308 40.45 312.2 40.35 C316.4 40.25 318.2 40.14 320.2 39.8 C322.2 39.46 323.13 39.18 324.2 38.3 C325.27 37.42 325.93 35.88 326.6 34.5 C327.27 33.12 327.77 31.35 328.2 30 C328.63 28.65 329.03 27 329.2 26.4" stroke="#1d50b2" stroke-width="1.2" fill="none" stroke-linejoin="round" stroke-linecap="round"/>
<path d="M77.1 177 C77.1 174.17 77.05 164.33 77.1 160 C77.15 155.67 77.08 152.78 77.4 151 C77.72 149.22 76.9 149.77 79 149.33 C81.1 148.88 86.12 148.72 90 148.35 C93.88 147.98 96.65 147.77 102.3 147.11 C107.95 146.45 117.95 145.25 123.9 144.4 C129.85 143.55 134.36 142.83 138 142 C141.64 141.17 143.52 140.67 145.75 139.44 C147.98 138.21 149.66 136.71 151.36 134.62 C153.06 132.54 154.7 130.04 155.94 126.94 C157.17 123.83 157.95 119.49 158.78 116 C159.6 112.51 160.27 108.93 160.88 106 C161.48 103.07 161.81 100.9 162.4 98.4 C162.99 95.9 163.15 93.35 164.44 91 C165.73 88.65 168.38 86.58 170.14 84.3 C171.9 82.02 173.55 79.75 175 77.3 C176.45 74.85 177.73 72.01 178.86 69.6 C180 67.19 180.78 64.96 181.82 62.84 C182.87 60.72 183.75 58.71 185.12 56.88 C186.5 55.04 187.55 53.39 190.09 51.85 C192.63 50.31 196.41 48.73 200.38 47.65 C204.34 46.57 208.96 45.92 213.9 45.38 C218.84 44.83 223.98 44.61 230 44.38 C236.02 44.14 245.67 44.26 250 43.98 C254.33 43.69 254 43.02 256 42.67 C258 42.32 259.67 42.08 262 41.88 C264.33 41.67 264.5 41.7 270 41.48 C275.5 41.25 287.63 40.69 295 40.5 C302.37 40.31 309.67 40.44 314.2 40.32 C318.73 40.21 320.2 40.14 322.2 39.8 C324.2 39.46 325.13 39.18 326.2 38.3 C327.27 37.42 327.93 35.88 328.6 34.5 C329.27 33.12 329.77 31.35 330.2 30 C330.63 28.65 331.03 27 331.2 26.4" stroke="#1d50b2" stroke-width="1.2" fill="none" stroke-linejoin="round" stroke-linecap="round"/>
<path d="M77.1 177 C77.1 174.17 77.05 164.33 77.1 160 C77.15 155.67 77.08 152.77 77.4 151 C77.72 149.23 76.9 149.82 79 149.4 C81.1 148.98 86.12 148.85 90 148.5 C93.88 148.15 96.65 147.93 102.3 147.3 C107.95 146.67 117.95 145.5 123.9 144.7 C129.85 143.9 134.32 143.28 138 142.5 C141.68 141.72 143.7 141.25 146 140 C148.3 138.75 150.05 137.17 151.8 135 C153.55 132.83 155.23 130.17 156.5 127 C157.77 123.83 158.57 119.5 159.4 116 C160.23 112.5 160.9 108.93 161.5 106 C162.1 103.07 162.42 100.9 163 98.4 C163.58 95.9 163.72 93.35 165 91 C166.28 88.65 168.95 86.58 170.7 84.3 C172.45 82.02 174.07 79.75 175.5 77.3 C176.93 74.85 178.18 72 179.3 69.6 C180.42 67.2 181.17 65 182.2 62.9 C183.23 60.8 184.13 58.82 185.5 57 C186.87 55.18 187.9 53.53 190.4 52 C192.9 50.47 196.58 48.88 200.5 47.8 C204.42 46.72 208.98 46.05 213.9 45.5 C218.82 44.95 223.98 44.73 230 44.5 C236.02 44.27 245.67 44.38 250 44.1 C254.33 43.82 254 43.15 256 42.8 C258 42.45 259.67 42.2 262 42 C264.33 41.8 264.5 41.83 270 41.6 C275.5 41.37 287.28 40.82 295 40.6 C302.72 40.38 311.42 40.43 316.3 40.3 C321.18 40.17 322.3 40.13 324.3 39.8 C326.3 39.47 327.23 39.18 328.3 38.3 C329.37 37.42 330.03 35.88 330.7 34.5 C331.37 33.12 331.87 31.35 332.3 30 C332.73 28.65 333.13 27 333.3 26.4" stroke="#1d50b2" stroke-width="1.2" fill="none" stroke-linejoin="round" stroke-linecap="round"/>
<path d="M77.1 177 C77.1 174.17 77.05 164.33 77.1 160 C77.15 155.67 77.08 152.75 77.4 151 C77.72 149.25 76.9 149.87 79 149.47 C81.1 149.08 86.12 148.98 90 148.65 C93.88 148.32 96.65 148.1 102.3 147.49 C107.95 146.88 117.95 145.75 123.9 145 C129.85 144.25 134.28 143.74 138 143 C141.72 142.26 143.88 141.83 146.25 140.56 C148.62 139.29 150.44 137.62 152.24 135.38 C154.04 133.12 155.76 130.29 157.06 127.06 C158.36 123.83 159.18 119.51 160.03 116 C160.87 112.49 161.53 108.93 162.12 106 C162.72 103.07 163.03 100.9 163.6 98.4 C164.17 95.9 164.29 93.35 165.56 91 C166.84 88.65 169.52 86.58 171.26 84.3 C173 82.02 174.59 79.75 176 77.3 C177.41 74.85 178.64 71.99 179.74 69.6 C180.83 67.21 181.55 65.04 182.57 62.96 C183.6 60.88 184.52 58.93 185.88 57.12 C187.23 55.32 188.25 53.68 190.71 52.15 C193.17 50.62 196.76 49.04 200.62 47.95 C204.49 46.86 209 46.18 213.9 45.62 C218.8 45.07 223.98 44.86 230 44.62 C236.02 44.39 245.67 44.51 250 44.23 C254.33 43.94 254 43.27 256 42.92 C258 42.57 259.67 42.33 262 42.12 C264.33 41.92 264.5 41.96 270 41.73 C275.5 41.49 286.95 40.94 295 40.7 C303.05 40.46 313.08 40.42 318.3 40.27 C323.52 40.12 324.3 40.13 326.3 39.8 C328.3 39.47 329.23 39.18 330.3 38.3 C331.37 37.42 332.03 35.88 332.7 34.5 C333.37 33.12 333.87 31.35 334.3 30 C334.73 28.65 335.13 27 335.3 26.4" stroke="#1d50b2" stroke-width="1.2" fill="none" stroke-linejoin="round" stroke-linecap="round"/>
<path d="M77.1 177 C77.1 174.17 77.05 164.33 77.1 160 C77.15 155.67 77.08 152.74 77.4 151 C77.72 149.26 76.9 149.92 79 149.55 C81.1 149.18 86.12 149.11 90 148.8 C93.88 148.49 96.65 148.26 102.3 147.68 C107.95 147.09 117.95 146 123.9 145.3 C129.85 144.6 134.23 144.2 138 143.5 C141.77 142.8 144.05 142.42 146.5 141.12 C148.95 139.83 150.82 138.08 152.68 135.75 C154.53 133.42 156.3 130.42 157.62 127.12 C158.95 123.83 159.8 119.52 160.65 116 C161.5 112.48 162.16 108.93 162.75 106 C163.34 103.07 163.64 100.9 164.2 98.4 C164.76 95.9 164.85 93.35 166.12 91 C167.4 88.65 170.1 86.58 171.82 84.3 C173.55 82.02 175.11 79.75 176.5 77.3 C177.89 74.85 179.1 71.98 180.18 69.6 C181.25 67.22 181.94 65.08 182.95 63.02 C183.96 60.97 184.9 59.04 186.25 57.25 C187.6 55.46 188.61 53.82 191.03 52.3 C193.44 50.77 196.94 49.19 200.75 48.1 C204.56 47.01 209.03 46.31 213.9 45.75 C218.78 45.19 223.98 44.98 230 44.75 C236.02 44.52 245.67 44.63 250 44.35 C254.33 44.07 254 43.4 256 43.05 C258 42.7 259.67 42.45 262 42.25 C264.33 42.05 264.5 42.09 270 41.85 C275.5 41.61 286.58 41.07 295 40.8 C303.42 40.53 314.92 40.42 320.5 40.25 C326.08 40.08 326.5 40.12 328.5 39.8 C330.5 39.47 331.43 39.18 332.5 38.3 C333.57 37.42 334.23 35.88 334.9 34.5 C335.57 33.12 336.07 31.35 336.5 30 C336.93 28.65 337.33 27 337.5 26.4" stroke="#1d50b2" stroke-width="1.2" fill="none" stroke-linejoin="round" stroke-linecap="round"/>
<path d="M77.1 177 C77.1 174.17 77.05 164.33 77.1 160 C77.15 155.67 77.08 152.73 77.4 151 C77.72 149.27 76.9 149.97 79 149.62 C81.1 149.28 86.12 149.24 90 148.95 C93.88 148.66 96.65 148.42 102.3 147.86 C107.95 147.3 117.95 146.24 123.9 145.6 C129.85 144.96 134.19 144.65 138 144 C141.81 143.35 144.23 143 146.75 141.69 C149.27 140.38 151.21 138.54 153.11 136.12 C155.02 133.71 156.83 130.54 158.19 127.19 C159.55 123.83 160.41 119.53 161.28 116 C162.14 112.47 162.79 108.93 163.38 106 C163.96 103.07 164.25 100.9 164.8 98.4 C165.35 95.9 165.42 93.35 166.69 91 C167.95 88.65 170.67 86.58 172.39 84.3 C174.11 82.02 175.63 79.75 177 77.3 C178.37 74.85 179.56 71.97 180.61 69.6 C181.67 67.23 182.32 65.12 183.32 63.09 C184.33 61.05 185.29 59.15 186.62 57.38 C187.96 55.6 188.96 53.97 191.34 52.45 C193.71 50.93 197.11 49.35 200.88 48.25 C204.64 47.15 209.05 46.44 213.9 45.88 C218.75 45.31 223.98 45.11 230 44.88 C236.02 44.64 245.67 44.76 250 44.48 C254.33 44.19 254 43.52 256 43.17 C258 42.82 259.67 42.58 262 42.38 C264.33 42.17 264.5 42.22 270 41.98 C275.5 41.73 284.93 41.19 295 40.9 C305.07 40.61 323.17 40.41 330.4 40.22 C337.63 40.04 336.4 40.12 338.4 39.8 C340.4 39.48 341.33 39.18 342.4 38.3 C343.47 37.42 344.13 35.88 344.8 34.5 C345.47 33.12 345.97 31.35 346.4 30 C346.83 28.65 347.23 27 347.4 26.4" stroke="#1d50b2" stroke-width="1.2" fill="none" stroke-linejoin="round" stroke-linecap="round"/>
<path d="M77.1 177 C77.1 174.17 77.05 164.33 77.1 160 C77.15 155.67 77.08 152.72 77.4 151 C77.72 149.28 76.9 150.02 79 149.7 C81.1 149.38 86.12 149.38 90 149.1 C93.88 148.82 96.65 148.58 102.3 148.05 C107.95 147.52 117.95 146.49 123.9 145.9 C129.85 145.31 134.15 145.11 138 144.5 C141.85 143.89 144.41 143.58 147 142.25 C149.59 140.92 151.59 139 153.55 136.5 C155.51 134 157.36 130.67 158.75 127.25 C160.14 123.83 161.03 119.54 161.9 116 C162.78 112.46 163.42 108.93 164 106 C164.58 103.07 164.86 100.9 165.4 98.4 C165.94 95.9 165.99 93.35 167.25 91 C168.51 88.65 171.24 86.58 172.95 84.3 C174.66 82.02 176.15 79.75 177.5 77.3 C178.85 74.85 180.02 71.96 181.05 69.6 C182.08 67.24 182.71 65.17 183.7 63.15 C184.69 61.13 185.68 59.26 187 57.5 C188.32 55.74 189.32 54.12 191.65 52.6 C193.98 51.08 197.29 49.5 201 48.4 C204.71 47.3 209.07 46.57 213.9 46 C218.73 45.43 223.98 45.23 230 45 C236.02 44.77 245.67 44.88 250 44.6 C254.33 44.32 254 43.65 256 43.3 C258 42.95 259.67 42.7 262 42.5 C264.33 42.3 264.5 42.35 270 42.1 C275.5 41.85 284.37 41.32 295 41 C305.63 40.68 326 40.4 333.8 40.2 C341.6 40 339.8 40.12 341.8 39.8 C343.8 39.48 344.73 39.18 345.8 38.3 C346.87 37.42 347.53 35.88 348.2 34.5 C348.87 33.12 349.37 31.35 349.8 30 C350.23 28.65 350.63 27 350.8 26.4" stroke="#1d50b2" stroke-width="1.2" fill="none" stroke-linejoin="round" stroke-linecap="round"/>
<path d="M118 144.5 C118.43 144.27 119.8 144.23 120.6 143.1 C121.4 141.97 121.9 138.33 122.8 137.7 C123.7 137.07 124.02 139.3 126 139.3 C127.98 139.3 131.47 138.68 134.7 137.7 C137.93 136.72 142.68 134.93 145.4 133.4 C148.12 131.87 149.4 130.73 151 128.5 C152.6 126.27 154.33 121.42 155 120" stroke="#1d50b2" stroke-width="1.2" fill="none" stroke-linejoin="round" stroke-linecap="round"/>
<path d="M76.7 116.5 C76.73 114.75 76.75 109.58 76.9 106 C77.05 102.42 77.22 97.92 77.6 95 C77.98 92.08 78.33 90.72 79.2 88.5 C80.07 86.28 81.58 84.7 82.8 81.7 C84.02 78.7 85.22 74.37 86.5 70.5 C87.78 66.63 88.97 61.52 90.5 58.5 C92.03 55.48 93.12 53.98 95.7 52.4 C98.28 50.82 101.73 50 106 49 C110.27 48 116.6 47.02 121.3 46.4 C126 45.78 129.42 45.55 134.2 45.3 C138.98 45.05 145.1 45.12 150 44.9 C154.9 44.68 160.5 44.42 163.6 44 C166.7 43.58 166.93 42.9 168.6 42.4 C170.27 41.9 168.37 41.27 173.6 41 C178.83 40.73 190.27 40.97 200 40.8 C209.73 40.63 225.92 40.32 232 40 C238.08 39.68 235.25 39.57 236.5 38.9 C237.75 38.23 238.52 37.27 239.5 36 C240.48 34.73 241.32 32.87 242.4 31.3 C243.48 29.73 245.4 27.38 246 26.6" stroke="#1d50b2" stroke-width="1.2" fill="none" stroke-linejoin="round" stroke-linecap="round"/>
<path d="M477.2 34.2 C477.33 35 477.53 37.77 478 39 C478.47 40.23 477.33 41.03 480 41.55 C482.67 42.07 487.68 41.68 494 42.1 C500.32 42.52 511.65 43.42 517.9 44.05 C524.15 44.67 528.32 44.94 531.5 45.85 C534.68 46.76 535.42 47.48 537 49.5 C538.58 51.52 539.75 55.08 541 58 C542.25 60.92 543.17 63.78 544.5 67 C545.83 70.22 547.05 73.88 549 77.3 C550.95 80.72 553.8 84.3 556.2 87.5 C558.6 90.7 561.1 93.5 563.4 96.5 C565.7 99.5 567.77 102.92 570 105.5 C572.23 108.08 573.5 109.91 576.8 112 C580.1 114.09 585.63 116.06 589.8 118.05 C593.97 120.04 597.4 121.54 601.8 123.95 C606.2 126.36 611.4 129.79 616.2 132.5 C621 135.21 626.38 137.42 630.6 140.2 C634.82 142.98 638.32 146.27 641.5 149.2 C644.68 152.13 644.97 156.14 649.7 157.8 C654.43 159.46 663.33 158.37 669.9 159.15 C676.47 159.93 684.08 160.74 689.1 162.5 C694.12 164.26 697.13 166.42 700 169.7 C702.87 172.98 704.53 178.43 706.3 182.2 C708.07 185.97 709.88 190.62 710.6 192.3" stroke="#1d50b2" stroke-width="1.2" fill="none" stroke-linejoin="round" stroke-linecap="round"/>
<path d="M477.2 34.2 C477.33 35 477.53 37.76 478 39 C478.47 40.24 477.33 41.08 480 41.62 C482.67 42.16 487.68 41.8 494 42.24 C500.32 42.68 511.63 43.63 517.9 44.26 C524.17 44.9 528.41 45.17 531.64 46.06 C534.87 46.96 535.65 47.65 537.29 49.64 C538.92 51.63 540.13 55.11 541.43 58 C542.73 60.89 543.69 63.78 545.07 67 C546.45 70.22 547.74 73.88 549.71 77.3 C551.69 80.72 554.51 84.28 556.91 87.5 C559.31 90.72 561.84 93.6 564.11 96.64 C566.39 99.69 568.41 103.15 570.57 105.79 C572.73 108.42 573.88 110.28 577.09 112.43 C580.29 114.58 585.68 116.64 589.8 118.69 C593.92 120.74 597.4 122.29 601.8 124.74 C606.2 127.18 611.4 130.64 616.2 133.36 C621 136.08 626.36 138.32 630.6 141.06 C634.84 143.79 638.41 146.96 641.64 149.77 C644.87 152.59 645.28 156.34 649.99 157.94 C654.7 159.54 663.38 158.56 669.9 159.36 C676.42 160.17 684.04 161.02 689.1 162.79 C694.16 164.56 697.32 166.73 700.29 169.99 C703.25 173.25 705.01 178.62 706.87 182.34 C708.73 186.06 710.69 190.64 711.46 192.3" stroke="#1d50b2" stroke-width="1.2" fill="none" stroke-linejoin="round" stroke-linecap="round"/>
<path d="M477.2 34.2 C477.33 35 477.53 37.75 478 39 C478.47 40.25 477.33 41.13 480 41.69 C482.67 42.26 487.68 41.92 494 42.39 C500.32 42.85 511.6 43.83 517.9 44.48 C524.2 45.13 528.51 45.39 531.79 46.28 C535.06 47.16 535.89 47.83 537.57 49.79 C539.25 51.74 540.51 55.13 541.86 58 C543.2 60.87 544.21 63.78 545.64 67 C547.07 70.22 548.43 73.88 550.43 77.3 C552.43 80.72 555.23 84.25 557.63 87.5 C560.03 90.75 562.58 93.69 564.83 96.79 C567.08 99.88 569.05 103.39 571.14 106.07 C573.23 108.75 574.26 110.65 577.37 112.86 C580.48 115.07 585.73 117.23 589.8 119.34 C593.87 121.45 597.4 123.04 601.8 125.52 C606.2 128 611.4 131.48 616.2 134.21 C621 136.95 626.34 139.23 630.6 141.91 C634.86 144.6 638.51 147.65 641.79 150.34 C645.06 153.04 645.59 156.55 650.27 158.09 C654.96 159.62 663.43 158.75 669.9 159.58 C676.37 160.41 683.99 161.29 689.1 163.07 C694.21 164.85 697.51 167.04 700.57 170.27 C703.63 173.51 705.49 178.81 707.44 182.49 C709.4 186.16 711.5 190.66 712.31 192.3" stroke="#1d50b2" stroke-width="1.2" fill="none" stroke-linejoin="round" stroke-linecap="round"/>
<path d="M477.2 34.2 C477.33 35 477.53 37.74 478 39 C478.47 40.26 477.33 41.18 480 41.76 C482.67 42.35 487.68 42.04 494 42.53 C500.32 43.02 511.58 44.03 517.9 44.69 C524.22 45.35 528.6 45.62 531.93 46.49 C535.25 47.37 536.13 48.01 537.86 49.93 C539.58 51.85 540.89 55.15 542.29 58 C543.68 60.85 544.74 63.78 546.21 67 C547.69 70.22 549.12 73.88 551.14 77.3 C553.16 80.72 555.94 84.23 558.34 87.5 C560.74 90.77 563.31 93.79 565.54 96.93 C567.77 100.07 569.7 103.63 571.71 106.36 C573.73 109.08 574.64 111.02 577.66 113.29 C580.67 115.56 585.78 117.81 589.8 119.98 C593.82 122.15 597.4 123.79 601.8 126.31 C606.2 128.82 611.4 132.33 616.2 135.07 C621 137.82 626.31 140.13 630.6 142.77 C634.89 145.41 638.6 148.34 641.93 150.91 C645.25 153.49 645.9 156.75 650.56 158.23 C655.22 159.71 663.48 158.94 669.9 159.79 C676.32 160.65 683.94 161.56 689.1 163.36 C694.26 165.15 697.7 167.35 700.86 170.56 C704.01 173.77 705.96 179 708.01 182.63 C710.07 186.25 712.31 190.69 713.17 192.3" stroke="#1d50b2" stroke-width="1.2" fill="none" stroke-linejoin="round" stroke-linecap="round"/>
<path d="M477.2 34.2 C477.33 35 477.53 37.73 478 39 C478.47 40.27 477.33 41.22 480 41.84 C482.67 42.45 487.68 42.16 494 42.67 C500.32 43.18 511.55 44.23 517.9 44.91 C524.25 45.58 528.7 45.85 532.07 46.71 C535.45 47.57 536.37 48.19 538.14 50.07 C539.92 51.95 541.27 55.18 542.71 58 C544.15 60.82 545.26 63.78 546.79 67 C548.31 70.22 549.81 73.88 551.86 77.3 C553.9 80.72 556.66 84.2 559.06 87.5 C561.46 90.8 564.05 93.88 566.26 97.07 C568.46 100.26 570.34 103.87 572.29 106.64 C574.23 109.42 575.02 111.38 577.94 113.71 C580.86 116.04 585.82 118.39 589.8 120.62 C593.78 122.85 597.4 124.54 601.8 127.09 C606.2 129.64 611.4 133.17 616.2 135.93 C621 138.68 626.29 141.04 630.6 143.63 C634.91 146.22 638.7 149.03 642.07 151.49 C645.45 153.94 646.2 156.95 650.84 158.37 C655.48 159.79 663.52 159.13 669.9 160.01 C676.28 160.89 683.89 161.84 689.1 163.64 C694.31 165.45 697.9 167.65 701.14 170.84 C704.39 174.03 706.44 179.2 708.59 182.77 C710.73 186.35 713.12 190.71 714.03 192.3" stroke="#1d50b2" stroke-width="1.2" fill="none" stroke-linejoin="round" stroke-linecap="round"/>
<path d="M477.2 34.2 C477.33 35 477.53 37.72 478 39 C478.47 40.28 477.33 41.27 480 41.91 C482.67 42.54 487.68 42.28 494 42.81 C500.32 43.35 511.53 44.44 517.9 45.12 C524.27 45.81 528.79 46.07 532.21 46.92 C535.64 47.77 536.61 48.37 538.43 50.21 C540.25 52.06 541.65 55.2 543.14 58 C544.63 60.8 545.79 63.78 547.36 67 C548.93 70.22 550.5 73.88 552.57 77.3 C554.64 80.72 557.37 84.18 559.77 87.5 C562.17 90.82 564.79 93.98 566.97 97.21 C569.15 100.45 570.98 104.11 572.86 106.93 C574.73 109.75 575.4 111.75 578.23 114.14 C581.05 116.53 585.87 118.97 589.8 121.26 C593.73 123.55 597.4 125.29 601.8 127.88 C606.2 130.47 611.4 134.02 616.2 136.79 C621 139.55 626.26 141.94 630.6 144.49 C634.94 147.03 638.79 149.72 642.21 152.06 C645.64 154.4 646.51 157.15 651.13 158.51 C655.74 159.88 663.57 159.32 669.9 160.22 C676.23 161.12 683.85 162.11 689.1 163.93 C694.35 165.75 698.09 167.96 701.43 171.13 C704.77 174.29 706.91 179.39 709.16 182.91 C711.4 186.44 713.93 190.74 714.89 192.3" stroke="#1d50b2" stroke-width="1.2" fill="none" stroke-linejoin="round" stroke-linecap="round"/>
<path d="M477.2 34.2 C477.33 35 477.53 37.7 478 39 C478.47 40.3 477.33 41.32 480 41.98 C482.67 42.64 487.68 42.4 494 42.96 C500.32 43.52 511.51 44.64 517.9 45.34 C524.29 46.03 528.89 46.3 532.36 47.14 C535.83 47.97 536.85 48.55 538.71 50.36 C540.58 52.17 542.04 55.23 543.57 58 C545.11 60.77 546.31 63.78 547.93 67 C549.55 70.22 551.19 73.88 553.29 77.3 C555.38 80.72 558.09 84.16 560.49 87.5 C562.89 90.84 565.53 94.07 567.69 97.36 C569.84 100.64 571.62 104.35 573.43 107.21 C575.23 110.08 575.79 112.12 578.51 114.57 C581.24 117.02 585.92 119.56 589.8 121.91 C593.68 124.26 597.4 126.04 601.8 128.66 C606.2 131.29 611.4 134.86 616.2 137.64 C621 140.42 626.24 142.85 630.6 145.34 C634.96 147.84 638.89 150.41 642.36 152.63 C645.83 154.85 646.82 157.36 651.41 158.66 C656 159.96 663.62 159.51 669.9 160.44 C676.18 161.36 683.8 162.38 689.1 164.21 C694.4 166.04 698.28 168.27 701.71 171.41 C705.15 174.55 707.39 179.58 709.73 183.06 C712.07 186.54 714.74 190.76 715.74 192.3" stroke="#1d50b2" stroke-width="1.2" fill="none" stroke-linejoin="round" stroke-linecap="round"/>
<path d="M477.2 34.2 C477.33 35 477.53 37.69 478 39 C478.47 40.31 477.33 41.37 480 42.05 C482.67 42.73 487.68 42.52 494 43.1 C500.32 43.68 511.48 44.84 517.9 45.55 C524.32 46.26 528.98 46.52 532.5 47.35 C536.02 48.18 537.08 48.73 539 50.5 C540.92 52.27 542.42 55.25 544 58 C545.58 60.75 546.83 63.78 548.5 67 C550.17 70.22 551.88 73.88 554 77.3 C556.12 80.72 558.8 84.13 561.2 87.5 C563.6 90.87 566.27 94.17 568.4 97.5 C570.53 100.83 572.27 104.58 574 107.5 C575.73 110.42 576.17 112.49 578.8 115 C581.43 117.51 585.97 120.14 589.8 122.55 C593.63 124.96 597.4 126.79 601.8 129.45 C606.2 132.11 611.4 135.71 616.2 138.5 C621 141.29 626.22 143.75 630.6 146.2 C634.98 148.65 638.98 151.1 642.5 153.2 C646.02 155.3 647.13 157.56 651.7 158.8 C656.27 160.04 663.67 159.7 669.9 160.65 C676.13 161.6 683.75 162.66 689.1 164.5 C694.45 166.34 698.47 168.58 702 171.7 C705.53 174.82 707.87 179.77 710.3 183.2 C712.73 186.63 715.55 190.78 716.6 192.3" stroke="#1d50b2" stroke-width="1.2" fill="none" stroke-linejoin="round" stroke-linecap="round"/>
<path d="M534 47 C534.83 47.5 537.5 47.83 539 50 C540.5 52.17 541.67 56.33 543 60 C544.33 63.67 545.33 68 547 72 C548.67 76 550.67 79.33 553 84 C555.33 88.67 557.67 94.75 561 100 C564.33 105.25 568.2 110.5 573 115.5 C577.8 120.5 584.6 125.2 589.8 130 C595 134.8 601 140.63 604.2 144.3 C607.4 147.97 607.53 149.92 609 152 C610.47 154.08 610.83 155.65 613 156.8 C615.17 157.95 617.5 158.28 622 158.9 C626.5 159.52 634.02 159.73 640 160.5 C645.98 161.27 654.07 162.42 657.9 163.5 C661.73 164.58 661.4 165.4 663 167 C664.6 168.6 666 170.6 667.5 173.1 C669 175.6 670.6 178.8 672 182 C673.4 185.2 675.25 190.58 675.9 192.3" stroke="#1d50b2" stroke-width="1.2" fill="none" stroke-linejoin="round" stroke-linecap="round"/>
<path d="M620 137.5 C621.33 138.08 625.67 139.42 628 141 C630.33 142.58 632.17 144.67 634 147 C635.83 149.33 637.17 153.08 639 155 C640.83 156.92 641.5 157.67 645 158.5 C648.5 159.33 653.83 159.12 660 160 C666.17 160.88 677 162.63 682 163.8 C687 164.97 687.67 165.13 690 167 C692.33 168.87 694.33 172.33 696 175 C697.67 177.67 698.75 180.12 700 183 C701.25 185.88 702.92 190.75 703.5 192.3" stroke="#1d50b2" stroke-width="1.2" fill="none" stroke-linejoin="round" stroke-linecap="round"/>
<path d="M634 143 C635.67 144.42 641.22 148.92 644 151.5 C646.78 154.08 646.38 157 650.7 158.5 C655.02 160 663.52 159.5 669.9 160.5 C676.28 161.5 684.15 162.58 689 164.5 C693.85 166.42 696.42 168.97 699 172 C701.58 175.03 703 179.32 704.5 182.7 C706 186.08 707.42 190.7 708 192.3" stroke="#1d50b2" stroke-width="1.2" fill="none" stroke-linejoin="round" stroke-linecap="round"/>
<path d="M477.2 179.1 C477.23 175.92 477.2 164.97 477.4 160 C477.6 155.03 477.63 151.4 478.4 149.3 C479.17 147.2 480.07 148.22 482 147.4 C483.93 146.58 484.67 146.58 490 144.4 C495.33 142.22 507 137.78 514 134.3 C521 130.82 527.02 127.5 532 123.5 C536.98 119.5 540.52 114.9 543.9 110.3 C547.28 105.7 549.3 100.28 552.3 95.9 C555.3 91.52 558.3 87.98 561.9 84 C565.5 80.02 569.5 76 573.9 72 C578.3 68 583.25 63.58 588.3 60 C593.35 56.42 598.92 52.75 604.2 50.5 C609.48 48.25 614.03 47.37 620 46.5 C625.97 45.63 633.68 45.68 640 45.3 C646.32 44.92 650.92 44.67 657.9 44.2 C664.88 43.73 676.3 43.03 681.9 42.5 C687.5 41.97 687.65 41.32 691.5 41 C695.35 40.68 700.28 40.68 705 40.6 C709.72 40.52 716.17 40.6 719.8 40.5 C723.43 40.4 725.05 40.45 726.8 40 C728.55 39.55 729.3 38.88 730.3 37.8 C731.3 36.72 732.08 34.93 732.8 33.5 C733.52 32.07 734.1 30.42 734.6 29.2 C735.1 27.98 735.6 26.7 735.8 26.2" stroke="#1d50b2" stroke-width="1.2" fill="none" stroke-linejoin="round" stroke-linecap="round"/>
<path d="M477.2 179.1 C477.23 175.92 477.2 164.97 477.4 160 C477.6 155.03 477.63 151.31 478.4 149.3 C479.17 147.29 480.07 148.4 482 147.96 C483.93 147.52 483.73 148.19 490 146.66 C496.27 145.12 511.71 141.6 519.64 138.77 C527.57 135.93 532.61 133.09 537.59 129.66 C542.58 126.23 546.15 122.13 549.54 118.2 C552.93 114.26 555.32 109.69 557.94 106.05 C560.56 102.41 562.62 99.41 565.28 96.36 C567.94 93.31 570.25 91.37 573.9 87.75 C577.55 84.12 582.45 79.14 587.17 74.62 C591.89 70.09 597.62 63.82 602.23 60.6 C606.84 57.39 610.1 56.93 614.83 55.34 C619.56 53.74 624.82 52.51 630.6 51.03 C636.38 49.55 641.87 47.68 649.49 46.46 C657.1 45.23 669.3 44.55 676.31 43.67 C683.31 42.8 686.72 41.73 691.5 41.23 C696.28 40.74 700.05 40.82 705 40.69 C709.95 40.57 717.33 40.62 721.2 40.5 C725.07 40.38 726.45 40.45 728.2 40 C729.95 39.55 730.7 38.88 731.7 37.8 C732.7 36.72 733.48 34.93 734.2 33.5 C734.92 32.07 735.5 30.42 736 29.2 C736.5 27.98 737 26.7 737.2 26.2" stroke="#1d50b2" stroke-width="1.2" fill="none" stroke-linejoin="round" stroke-linecap="round"/>
<path d="M477.2 179.1 C477.23 175.92 477.2 164.97 477.4 160 C477.6 155.03 477.63 151.28 478.4 149.3 C479.17 147.32 480.07 148.46 482 148.14 C483.93 147.82 483.43 148.7 490 147.38 C496.57 146.05 513.21 142.82 521.44 140.19 C529.67 137.56 534.39 134.87 539.38 131.62 C544.36 128.38 547.95 124.44 551.34 120.72 C554.73 116.99 557.24 112.69 559.74 109.29 C562.24 105.89 564 103.06 566.36 100.31 C568.72 97.55 570.49 96.27 573.9 92.77 C577.31 89.27 582.2 84.11 586.81 79.28 C591.43 74.46 597.2 67.35 601.6 63.83 C605.99 60.31 608.85 59.98 613.18 58.16 C617.51 56.33 622 54.69 627.6 52.86 C633.2 51.03 638.98 48.65 646.8 47.18 C654.62 45.71 667.07 45.03 674.52 44.05 C681.97 43.07 686.42 41.86 691.5 41.31 C696.58 40.76 699.82 40.86 705 40.72 C710.18 40.59 718.5 40.62 722.6 40.5 C726.7 40.38 727.85 40.45 729.6 40 C731.35 39.55 732.1 38.88 733.1 37.8 C734.1 36.72 734.88 34.93 735.6 33.5 C736.32 32.07 736.9 30.42 737.4 29.2 C737.9 27.98 738.4 26.7 738.6 26.2" stroke="#1d50b2" stroke-width="1.2" fill="none" stroke-linejoin="round" stroke-linecap="round"/>
<path d="M477.2 179.1 C477.23 175.92 477.2 164.97 477.4 160 C477.6 155.03 477.63 151.26 478.4 149.3 C479.17 147.34 480.07 148.5 482 148.26 C483.93 148.02 483.23 149.04 490 147.86 C496.77 146.67 514.21 143.63 522.64 141.14 C531.07 138.65 535.58 136.06 540.57 132.93 C545.55 129.81 549.14 125.98 552.54 122.4 C555.94 118.82 558.52 114.7 560.94 111.45 C563.36 108.21 564.92 105.49 567.08 102.94 C569.24 100.38 570.65 99.54 573.9 96.12 C577.15 92.7 582.03 87.42 586.57 82.39 C591.12 77.37 596.92 69.71 601.18 65.98 C605.43 62.25 608.01 62.02 612.08 60.04 C616.15 58.05 620.11 56.15 625.6 54.08 C631.09 52.02 637.06 49.29 645.01 47.66 C652.97 46.03 665.58 45.35 673.33 44.3 C681.08 43.25 686.22 41.95 691.5 41.36 C696.78 40.77 699.5 40.89 705 40.74 C710.5 40.6 720.08 40.62 724.5 40.5 C728.92 40.38 729.75 40.45 731.5 40 C733.25 39.55 734 38.88 735 37.8 C736 36.72 736.78 34.93 737.5 33.5 C738.22 32.07 738.8 30.42 739.3 29.2 C739.8 27.98 740.3 26.7 740.5 26.2" stroke="#1d50b2" stroke-width="1.2" fill="none" stroke-linejoin="round" stroke-linecap="round"/>
<path d="M477.2 179.1 C477.23 175.92 477.2 164.97 477.4 160 C477.6 155.03 477.63 151.24 478.4 149.3 C479.17 147.36 480.07 148.54 482 148.36 C483.93 148.18 483.07 149.32 490 148.24 C496.93 147.16 515.01 144.28 523.6 141.9 C532.19 139.52 536.54 137.01 541.52 133.98 C546.5 130.95 550.1 127.21 553.5 123.74 C556.9 120.27 559.54 116.3 561.9 113.18 C564.26 110.06 565.66 107.44 567.66 105.04 C569.66 102.64 570.78 102.16 573.9 98.8 C577.02 95.44 581.89 90.06 586.38 84.88 C590.87 79.7 596.7 71.59 600.84 67.7 C604.98 63.81 607.34 63.65 611.2 61.54 C615.06 59.43 618.6 57.31 624 55.06 C629.4 52.81 635.52 49.8 643.58 48.04 C651.64 46.28 664.39 45.61 672.38 44.5 C680.37 43.39 686.06 42.02 691.5 41.4 C696.94 40.78 699.2 40.91 705 40.76 C710.8 40.61 721.58 40.63 726.3 40.5 C731.02 40.37 731.55 40.45 733.3 40 C735.05 39.55 735.8 38.88 736.8 37.8 C737.8 36.72 738.58 34.93 739.3 33.5 C740.02 32.07 740.6 30.42 741.1 29.2 C741.6 27.98 742.1 26.7 742.3 26.2" stroke="#1d50b2" stroke-width="1.2" fill="none" stroke-linejoin="round" stroke-linecap="round"/>
<path d="M477.2 179.1 C477.23 175.92 477.2 164.97 477.4 160 C477.6 155.03 477.63 151.23 478.4 149.3 C479.17 147.37 480.07 148.56 482 148.43 C483.93 148.3 482.95 149.52 490 148.53 C497.05 147.53 515.61 144.76 524.32 142.47 C533.03 140.18 537.25 137.72 542.23 134.77 C547.22 131.81 550.82 128.13 554.22 124.75 C557.62 121.37 560.31 117.5 562.62 114.48 C564.93 111.45 566.21 108.9 568.09 106.62 C569.97 104.34 570.88 104.12 573.9 100.81 C576.92 97.5 581.79 92.05 586.24 86.75 C590.68 81.44 596.54 73 600.59 68.99 C604.64 64.98 606.84 64.87 610.54 62.67 C614.24 60.47 617.47 58.18 622.8 55.79 C628.13 53.4 634.36 50.19 642.51 48.33 C650.65 46.47 663.5 45.8 671.67 44.65 C679.83 43.5 685.94 42.08 691.5 41.43 C697.06 40.78 698.95 40.93 705 40.77 C711.05 40.62 722.83 40.63 727.8 40.5 C732.77 40.37 733.05 40.45 734.8 40 C736.55 39.55 737.3 38.88 738.3 37.8 C739.3 36.72 740.08 34.93 740.8 33.5 C741.52 32.07 742.1 30.42 742.6 29.2 C743.1 27.98 743.6 26.7 743.8 26.2" stroke="#1d50b2" stroke-width="1.2" fill="none" stroke-linejoin="round" stroke-linecap="round"/>
<path d="M477.2 179.1 C477.23 175.92 477.2 164.97 477.4 160 C477.6 155.03 477.63 151.22 478.4 149.3 C479.17 147.38 480.07 148.58 482 148.49 C483.93 148.4 482.85 149.69 490 148.77 C497.15 147.84 516.12 145.17 524.92 142.95 C533.72 140.72 537.85 138.31 542.83 135.42 C547.81 132.53 551.42 128.9 554.82 125.59 C558.22 122.28 560.95 118.5 563.22 115.56 C565.49 112.61 566.67 110.11 568.45 107.93 C570.23 105.75 570.96 105.76 573.9 102.48 C576.84 99.21 581.7 93.7 586.12 88.3 C590.53 82.9 596.4 74.18 600.38 70.06 C604.36 65.95 606.42 65.89 609.99 63.61 C613.56 61.33 616.53 58.91 621.8 56.4 C627.07 53.9 633.4 50.51 641.61 48.57 C649.82 46.63 662.76 45.96 671.07 44.77 C679.39 43.59 685.85 42.12 691.5 41.45 C697.15 40.79 698.67 40.94 705 40.78 C711.33 40.62 724.25 40.63 729.5 40.5 C734.75 40.37 734.75 40.45 736.5 40 C738.25 39.55 739 38.88 740 37.8 C741 36.72 741.78 34.93 742.5 33.5 C743.22 32.07 743.8 30.42 744.3 29.2 C744.8 27.98 745.3 26.7 745.5 26.2" stroke="#1d50b2" stroke-width="1.2" fill="none" stroke-linejoin="round" stroke-linecap="round"/>
<path d="M477.2 179.1 C477.23 175.92 477.2 164.97 477.4 160 C477.6 155.03 477.63 151.21 478.4 149.3 C479.17 147.39 480.07 148.6 482 148.55 C483.93 148.49 482.76 149.85 490 148.98 C497.24 148.12 516.57 145.53 525.46 143.37 C534.35 141.21 538.38 138.85 543.36 136.01 C548.35 133.17 551.96 129.59 555.36 126.34 C558.76 123.1 561.52 119.4 563.76 116.53 C566 113.66 567.09 111.21 568.78 109.12 C570.47 107.03 571.03 107.23 573.9 103.99 C576.77 100.76 581.63 95.19 586.01 89.7 C590.39 84.21 596.27 75.24 600.19 71.03 C604.1 66.82 606.04 66.8 609.5 64.45 C612.95 62.11 615.68 59.56 620.9 56.95 C626.12 54.34 632.53 50.79 640.81 48.78 C649.08 46.77 662.09 46.11 670.54 44.89 C678.98 43.67 685.76 42.16 691.5 41.48 C697.24 40.79 698.17 40.95 705 40.79 C711.83 40.63 726.75 40.63 732.5 40.5 C738.25 40.37 737.75 40.45 739.5 40 C741.25 39.55 742 38.88 743 37.8 C744 36.72 744.78 34.93 745.5 33.5 C746.22 32.07 746.8 30.42 747.3 29.2 C747.8 27.98 748.3 26.7 748.5 26.2" stroke="#1d50b2" stroke-width="1.2" fill="none" stroke-linejoin="round" stroke-linecap="round"/>
<path d="M477.2 179.1 C477.23 175.92 477.2 164.97 477.4 160 C477.6 155.03 477.63 151.2 478.4 149.3 C479.17 147.4 480.07 148.62 482 148.6 C483.93 148.58 482.67 150 490 149.2 C497.33 148.4 517.02 145.9 526 143.8 C534.98 141.7 538.92 139.38 543.9 136.6 C548.88 133.82 552.5 130.28 555.9 127.1 C559.3 123.92 562.1 120.3 564.3 117.5 C566.5 114.7 567.5 112.3 569.1 110.3 C570.7 108.3 571.1 108.7 573.9 105.5 C576.7 102.3 581.55 96.68 585.9 91.1 C590.25 85.52 596.15 76.3 600 72 C603.85 67.7 605.67 67.72 609 65.3 C612.33 62.88 614.83 60.22 620 57.5 C625.17 54.78 631.67 51.08 640 49 C648.33 46.92 661.42 46.25 670 45 C678.58 43.75 685.67 42.2 691.5 41.5 C697.33 40.8 698.98 40.97 705 40.8 C711.02 40.63 722.17 40.7 727.6 40.5 C733.03 40.3 734.93 40.27 737.6 39.6 C740.27 38.93 741.93 37.93 743.6 36.5 C745.27 35.07 746.27 32.72 747.6 31 C748.93 29.28 750.93 27 751.6 26.2" stroke="#1d50b2" stroke-width="1.2" fill="none" stroke-linejoin="round" stroke-linecap="round"/>
<path d="M477.9 125.2 C477.93 123 477.98 116.2 478.1 112 C478.22 107.8 478.12 103.67 478.6 100 C479.08 96.33 479.93 93.58 481 90 C482.07 86.42 483.5 82.33 485 78.5 C486.5 74.67 488.5 70 490 67 C491.5 64 492.13 62.75 494 60.5 C495.87 58.25 498.88 55.07 501.2 53.5 C503.52 51.93 505.92 51.62 507.9 51.1 C509.88 50.58 509.43 51 513.1 50.4 C516.77 49.8 525.1 48.2 529.9 47.5 C534.7 46.8 535.9 46.62 541.9 46.2 C547.9 45.78 559.12 45.33 565.9 45 C572.68 44.67 579.17 44.62 582.6 44.2 C586.03 43.78 585.1 43 586.5 42.5 C587.9 42 588.75 41.45 591 41.2 C593.25 40.95 591.25 41.23 600 41 C608.75 40.77 635.75 40.47 643.5 39.8 C651.25 39.13 645.67 38.38 646.5 37 C647.33 35.62 647.75 33.08 648.5 31.5 C649.25 29.92 650.03 28.45 651 27.5 C651.97 26.55 653.75 26.08 654.3 25.8" stroke="#1d50b2" stroke-width="1.2" fill="none" stroke-linejoin="round" stroke-linecap="round"/>
<path d="M858.9 34.9 C858.93 35.58 858.98 37.98 859.1 39 C859.22 40.02 859.2 40.57 859.6 41 C860 41.43 860.43 41.42 861.5 41.6 C862.57 41.78 864.28 41.87 866 42.1 C867.72 42.33 870.47 42.68 871.8 43 C873.13 43.32 872.45 43.6 874 44 C875.55 44.4 879.35 44.82 881.1 45.4 C882.85 45.98 883.6 46.48 884.5 47.5 C885.4 48.52 885.94 49.75 886.5 51.5 C887.06 53.25 887.39 55.92 887.85 58 C888.31 60.08 888.48 62.08 889.25 64 C890.02 65.92 891.25 67.96 892.5 69.5 C893.75 71.04 894 70.75 896.75 73.25 C899.5 75.75 904.93 80.83 909 84.5 C913.07 88.17 917.08 91.9 921.15 95.3 C925.22 98.7 929.27 101.9 933.4 104.9 C937.52 107.9 941.83 110.92 945.9 113.3 C949.97 115.68 952.82 117.22 957.8 119.2 C962.78 121.18 968.8 123.1 975.8 125.2 C982.8 127.3 991.22 129.42 999.8 131.8 C1008.38 134.18 1019.6 136.92 1027.3 139.5 C1035 142.08 1042.38 145.44 1046 147.27 C1049.62 149.09 1048.08 148.81 1049 150.47 C1049.92 152.12 1050.5 155.71 1051.5 157.2 C1052.5 158.69 1051.62 158.87 1055 159.4 C1058.38 159.93 1068.25 159.83 1071.8 160.4 C1075.35 160.97 1075.05 161.28 1076.3 162.8 C1077.55 164.32 1078.52 166.63 1079.3 169.5 C1080.08 172.37 1080.58 176.28 1081 180 C1081.42 183.72 1081.67 189.83 1081.8 191.8" stroke="#1d50b2" stroke-width="1.2" fill="none" stroke-linejoin="round" stroke-linecap="round"/>
<path d="M858.9 34.9 C858.93 35.58 858.98 37.96 859.1 39 C859.22 40.04 859.2 40.65 859.6 41.12 C860 41.59 860.43 41.63 861.5 41.84 C862.57 42.05 864.28 42.13 866 42.38 C867.72 42.63 870.47 43 871.8 43.32 C873.13 43.64 872.42 43.91 874 44.32 C875.58 44.73 879.48 45.2 881.3 45.8 C883.12 46.4 883.93 46.92 884.9 47.9 C885.87 48.88 886.49 50.02 887.1 51.7 C887.71 53.38 888.08 55.95 888.55 58 C889.03 60.05 889.19 62.05 889.95 64 C890.71 65.95 891.88 68.11 893.1 69.7 C894.32 71.29 894.53 71.02 897.25 73.55 C899.97 76.08 905.37 81.21 909.4 84.9 C913.43 88.59 917.42 92.3 921.45 95.7 C925.48 99.1 929.52 102.3 933.6 105.3 C937.68 108.3 941.87 111.32 945.9 113.7 C949.93 116.08 952.82 117.62 957.8 119.6 C962.78 121.58 968.8 123.5 975.8 125.6 C982.8 127.7 991.22 129.82 999.8 132.2 C1008.38 134.58 1018.52 137.12 1027.3 139.9 C1036.08 142.68 1047.8 146.87 1052.5 148.9 C1057.2 150.94 1054.58 150.72 1055.5 152.1 C1056.42 153.49 1057 155.98 1058 157.2 C1059 158.42 1057.87 158.87 1061.5 159.4 C1065.13 159.93 1076 159.83 1079.8 160.4 C1083.6 160.97 1083.05 161.28 1084.3 162.8 C1085.55 164.32 1086.52 166.63 1087.3 169.5 C1088.08 172.37 1088.58 176.28 1089 180 C1089.42 183.72 1089.67 189.83 1089.8 191.8" stroke="#1d50b2" stroke-width="1.2" fill="none" stroke-linejoin="round" stroke-linecap="round"/>
<path d="M858.9 34.9 C858.93 35.58 858.98 37.94 859.1 39 C859.22 40.06 859.2 40.73 859.6 41.24 C860 41.75 860.43 41.84 861.5 42.08 C862.57 42.32 864.28 42.4 866 42.66 C867.72 42.92 870.47 43.31 871.8 43.64 C873.13 43.97 872.38 44.21 874 44.64 C875.62 45.07 879.62 45.59 881.5 46.2 C883.38 46.81 884.27 47.35 885.3 48.3 C886.33 49.25 887.04 50.28 887.7 51.9 C888.36 53.52 888.76 55.98 889.25 58 C889.74 60.02 889.91 62.02 890.65 64 C891.39 65.98 892.52 68.26 893.7 69.9 C894.88 71.54 895.07 71.28 897.75 73.85 C900.43 76.42 905.8 81.59 909.8 85.3 C913.8 89.01 917.75 92.7 921.75 96.1 C925.75 99.5 929.77 102.7 933.8 105.7 C937.82 108.7 941.9 111.72 945.9 114.1 C949.9 116.48 952.82 118.02 957.8 120 C962.78 121.98 968.8 123.9 975.8 126 C982.8 128.1 991.22 130.22 999.8 132.6 C1008.38 134.98 1017.68 137.37 1027.3 140.3 C1036.92 143.23 1051.97 147.98 1057.5 150.16 C1063.03 152.34 1059.58 152.19 1060.5 153.36 C1061.42 154.53 1062 156.19 1063 157.2 C1064 158.21 1062.85 158.87 1066.5 159.4 C1070.15 159.93 1081.08 159.83 1084.9 160.4 C1088.72 160.97 1088.15 161.28 1089.4 162.8 C1090.65 164.32 1091.62 166.63 1092.4 169.5 C1093.18 172.37 1093.68 176.28 1094.1 180 C1094.52 183.72 1094.77 189.83 1094.9 191.8" stroke="#1d50b2" stroke-width="1.2" fill="none" stroke-linejoin="round" stroke-linecap="round"/>
<path d="M858.9 34.9 C858.93 35.58 858.98 37.92 859.1 39 C859.22 40.08 859.2 40.81 859.6 41.36 C860 41.91 860.43 42.06 861.5 42.32 C862.57 42.58 864.28 42.67 866 42.94 C867.72 43.21 870.47 43.62 871.8 43.96 C873.13 44.3 872.35 44.52 874 44.96 C875.65 45.4 879.75 45.98 881.7 46.6 C883.65 47.22 884.6 47.78 885.7 48.7 C886.8 49.62 887.59 50.55 888.3 52.1 C889.01 53.65 889.44 56.02 889.95 58 C890.46 59.98 890.62 61.98 891.35 64 C892.08 66.02 893.15 68.41 894.3 70.1 C895.45 71.79 895.6 71.55 898.25 74.15 C900.9 76.75 906.23 81.98 910.2 85.7 C914.17 89.42 918.08 93.1 922.05 96.5 C926.02 99.9 930.02 103.1 934 106.1 C937.98 109.1 941.93 112.12 945.9 114.5 C949.87 116.88 952.82 118.42 957.8 120.4 C962.78 122.38 968.8 124.3 975.8 126.4 C982.8 128.5 991.22 130.62 999.8 133 C1008.38 135.38 1017.88 138.21 1027.3 140.7 C1036.72 143.19 1050.68 146.23 1056.3 147.95 C1061.92 149.67 1059.72 149.99 1061 151.04 C1062.28 152.09 1063.08 153.22 1064 154.24 C1064.92 155.27 1065.5 156.34 1066.5 157.2 C1067.5 158.06 1066.33 158.87 1070 159.4 C1073.67 159.93 1084.67 159.83 1088.5 160.4 C1092.33 160.97 1091.75 161.28 1093 162.8 C1094.25 164.32 1095.22 166.63 1096 169.5 C1096.78 172.37 1097.28 176.28 1097.7 180 C1098.12 183.72 1098.37 189.83 1098.5 191.8" stroke="#1d50b2" stroke-width="1.2" fill="none" stroke-linejoin="round" stroke-linecap="round"/>
<path d="M858.9 34.9 C858.93 35.58 858.98 37.9 859.1 39 C859.22 40.1 859.2 40.89 859.6 41.48 C860 42.07 860.43 42.27 861.5 42.56 C862.57 42.85 864.28 42.93 866 43.22 C867.72 43.51 870.47 43.94 871.8 44.28 C873.13 44.62 872.32 44.83 874 45.28 C875.68 45.73 879.88 46.36 881.9 47 C883.92 47.64 884.93 48.22 886.1 49.1 C887.27 49.98 888.14 50.82 888.9 52.3 C889.66 53.78 890.12 56.05 890.65 58 C891.17 59.95 891.34 61.95 892.05 64 C892.76 66.05 893.78 68.56 894.9 70.3 C896.02 72.04 896.13 71.82 898.75 74.45 C901.37 77.08 906.67 82.36 910.6 86.1 C914.53 89.84 918.42 93.5 922.35 96.9 C926.28 100.3 930.27 103.5 934.2 106.5 C938.12 109.5 941.97 112.52 945.9 114.9 C949.83 117.28 952.82 118.82 957.8 120.8 C962.78 122.78 968.8 124.7 975.8 126.8 C982.8 128.9 991.22 131.02 999.8 133.4 C1008.38 135.78 1017.88 138.62 1027.3 141.1 C1036.72 143.57 1050.35 146.51 1056.3 148.25 C1062.25 149.99 1061.38 150.46 1063 151.55 C1064.62 152.63 1065.08 153.8 1066 154.75 C1066.92 155.69 1067.5 156.42 1068.5 157.2 C1069.5 157.98 1068.3 158.87 1072 159.4 C1075.7 159.93 1086.83 159.83 1090.7 160.4 C1094.57 160.97 1093.95 161.28 1095.2 162.8 C1096.45 164.32 1097.42 166.63 1098.2 169.5 C1098.98 172.37 1099.48 176.28 1099.9 180 C1100.32 183.72 1100.57 189.83 1100.7 191.8" stroke="#1d50b2" stroke-width="1.2" fill="none" stroke-linejoin="round" stroke-linecap="round"/>
<path d="M858.9 34.9 C858.93 35.58 858.98 37.88 859.1 39 C859.22 40.12 859.2 40.97 859.6 41.6 C860 42.23 860.43 42.48 861.5 42.8 C862.57 43.12 864.28 43.2 866 43.5 C867.72 43.8 870.47 44.25 871.8 44.6 C873.13 44.95 872.28 45.13 874 45.6 C875.72 46.07 880.02 46.75 882.1 47.4 C884.18 48.05 885.27 48.65 886.5 49.5 C887.73 50.35 888.69 51.08 889.5 52.5 C890.31 53.92 890.81 56.08 891.35 58 C891.89 59.92 892.06 61.92 892.75 64 C893.44 66.08 894.42 68.71 895.5 70.5 C896.58 72.29 896.67 72.08 899.25 74.75 C901.83 77.42 907.1 82.74 911 86.5 C914.9 90.26 918.75 93.9 922.65 97.3 C926.55 100.7 930.52 103.9 934.4 106.9 C938.27 109.9 942 112.92 945.9 115.3 C949.8 117.68 952.82 119.22 957.8 121.2 C962.78 123.18 968.8 125.1 975.8 127.2 C982.8 129.3 991.22 131.42 999.8 133.8 C1008.38 136.18 1017.88 139.04 1027.3 141.5 C1036.72 143.96 1050.1 146.81 1056.3 148.55 C1062.5 150.29 1062.63 150.83 1064.5 151.92 C1066.37 153.02 1066.58 154.24 1067.5 155.12 C1068.42 156 1069 156.49 1070 157.2 C1071 157.91 1069.68 158.87 1073.5 159.4 C1077.32 159.93 1088.92 159.83 1092.9 160.4 C1096.88 160.97 1096.15 161.28 1097.4 162.8 C1098.65 164.32 1099.62 166.63 1100.4 169.5 C1101.18 172.37 1101.68 176.28 1102.1 180 C1102.52 183.72 1102.77 189.83 1102.9 191.8" stroke="#1d50b2" stroke-width="1.2" fill="none" stroke-linejoin="round" stroke-linecap="round"/>
<path d="M858.9 34.9 C858.93 35.58 858.98 37.9 859.1 39 C859.22 40.1 859.2 40.9 859.6 41.5 C860 42.1 860.43 42.3 861.5 42.6 C862.57 42.9 864.28 43 866 43.3 C867.72 43.6 870.47 44.07 871.8 44.4 C873.13 44.73 872.37 44.87 874 45.3 C875.63 45.73 879.77 46.35 881.6 47 C883.43 47.65 884.13 48.28 885 49.2 C885.87 50.12 886.37 51.03 886.8 52.5 C887.23 53.97 887.23 55.75 887.6 58 C887.97 60.25 888.1 63.33 889 66 C889.9 68.67 890.5 70.75 893 74 C895.5 77.25 900.18 81.38 904 85.5 C907.82 89.62 911.92 94.3 915.9 98.7 C919.88 103.1 923.9 107.72 927.9 111.9 C931.9 116.08 935.47 120.23 939.9 123.8 C944.33 127.37 950.12 130.03 954.5 133.3 C958.88 136.57 963.05 139.77 966.2 143.4 C969.35 147.03 971.22 152.43 973.4 155.1 C975.58 157.77 976.38 158.2 979.3 159.4 C982.22 160.6 987.75 160.83 990.9 162.3 C994.05 163.77 996.27 165.53 998.2 168.2 C1000.13 170.87 1001.05 174.37 1002.5 178.3 C1003.95 182.23 1006.17 189.55 1006.9 191.8" stroke="#1d50b2" stroke-width="1.2" fill="none" stroke-linejoin="round" stroke-linecap="round"/>
<path d="M858.9 34.9 C858.93 35.58 858.98 37.9 859.1 39 C859.22 40.1 859.2 40.9 859.6 41.5 C860 42.1 860.43 42.3 861.5 42.6 C862.57 42.9 864.28 43 866 43.3 C867.72 43.6 870.47 44.07 871.8 44.4 C873.13 44.73 872.37 44.87 874 45.3 C875.63 45.73 879.77 46.35 881.6 47 C883.43 47.65 884.13 48.28 885 49.2 C885.87 50.12 886.32 51.03 886.8 52.5 C887.28 53.97 887.48 55.92 887.9 58 C888.32 60.08 888.12 62.33 889.3 65 C890.48 67.67 893.22 71.58 895 74 C896.78 76.42 897.17 76.5 900 79.5 C902.83 82.5 907.83 87.75 912 92 C916.17 96.25 920.35 100.78 925 105 C929.65 109.22 933.77 113.8 939.9 117.3 C946.03 120.8 954.52 122.37 961.8 126 C969.08 129.63 978.02 134.98 983.6 139.1 C989.18 143.22 991.9 147.32 995.3 150.7 C998.7 154.08 999.88 157.33 1004 159.4 C1008.12 161.47 1015.88 161.15 1020 163.1 C1024.12 165.05 1026.52 168.08 1028.7 171.1 C1030.88 174.12 1032 177.75 1033.1 181.2 C1034.2 184.65 1034.93 190.03 1035.3 191.8" stroke="#1d50b2" stroke-width="1.2" fill="none" stroke-linejoin="round" stroke-linecap="round"/>
<path d="M858.9 34.9 C858.93 35.58 858.98 37.9 859.1 39 C859.22 40.1 859.2 40.9 859.6 41.5 C860 42.1 860.43 42.3 861.5 42.6 C862.57 42.9 864.28 43 866 43.3 C867.72 43.6 870.47 44.07 871.8 44.4 C873.13 44.73 872.37 44.87 874 45.3 C875.63 45.73 879.77 46.35 881.6 47 C883.43 47.65 884.13 48.28 885 49.2 C885.87 50.12 886.27 51.03 886.8 52.5 C887.33 53.97 887.73 56 888.2 58 C888.67 60 888.38 61.92 889.6 64.5 C890.82 67.08 893.93 71.42 895.5 73.5 C897.07 75.58 896.42 74.42 899 77 C901.58 79.58 906.83 84.92 911 89 C915.17 93.08 919.18 97.03 924 101.5 C928.82 105.97 929.97 110.63 939.9 115.8 C949.83 120.97 971.95 127.42 983.6 132.5 C995.25 137.58 1003.5 142.53 1009.8 146.3 C1016.1 150.07 1018.48 152.92 1021.4 155.1 C1024.32 157.28 1023.42 158.2 1027.3 159.4 C1031.18 160.6 1040.58 160.83 1044.7 162.3 C1048.82 163.77 1050.07 165.53 1052 168.2 C1053.93 170.87 1055.28 174.37 1056.3 178.3 C1057.32 182.23 1057.8 189.55 1058.1 191.8" stroke="#1d50b2" stroke-width="1.2" fill="none" stroke-linejoin="round" stroke-linecap="round"/>
<path d="M858.9 34.9 C858.93 35.58 858.98 37.9 859.1 39 C859.22 40.1 859.2 40.9 859.6 41.5 C860 42.1 860.43 42.3 861.5 42.6 C862.57 42.9 864.28 43 866 43.3 C867.72 43.6 870.47 44.07 871.8 44.4 C873.13 44.73 872.37 44.87 874 45.3 C875.63 45.73 879.77 46.35 881.6 47 C883.43 47.65 884.13 48.28 885 49.2 C885.87 50.12 886.22 51.03 886.8 52.5 C887.38 53.97 887.97 56 888.5 58 C889.03 60 888.75 61.92 890 64.5 C891.25 67.08 894.58 71.67 896 73.5 C897.42 75.33 896.08 73.25 898.5 75.5 C900.92 77.75 906.42 83.08 910.5 87 C914.58 90.92 918.1 94.58 923 99 C927.9 103.42 929.8 108.2 939.9 113.5 C950 118.8 970.25 125.8 983.6 130.8 C996.95 135.8 1012.23 140.42 1020 143.5 C1027.77 146.58 1027.05 146.88 1030.2 149.3 C1033.35 151.72 1033.82 155.83 1038.9 158 C1043.98 160.17 1055.85 160.37 1060.7 162.3 C1065.55 164.23 1066.37 166.82 1068 169.6 C1069.63 172.38 1069.78 175.3 1070.5 179 C1071.22 182.7 1072 189.67 1072.3 191.8" stroke="#1d50b2" stroke-width="1.2" fill="none" stroke-linejoin="round" stroke-linecap="round"/>
<path d="M859.1 177.9 C859.17 174.92 859.32 164.6 859.5 160 C859.68 155.4 859.28 152.35 860.2 150.3 C861.12 148.25 862.7 149.03 865 147.7 C867.3 146.37 871.22 144.4 874 142.3 C876.78 140.2 879.42 137.28 881.7 135.1 C883.98 132.92 886 131.28 887.7 129.2 C889.4 127.12 890.6 124.7 891.9 122.6 C893.2 120.5 894.3 118.7 895.5 116.6 C896.7 114.5 897.37 112.9 899.1 110 C900.83 107.1 902.77 102.8 905.9 99.2 C909.03 95.6 913.23 92.28 917.9 88.4 C922.57 84.52 928.23 80.37 933.9 75.9 C939.57 71.43 945.92 65.98 951.9 61.6 C957.88 57.22 961.82 52.4 969.8 49.6 C977.78 46.8 988.1 45.98 999.8 44.8 C1011.5 43.62 1032.3 43.38 1040 42.5 C1047.7 41.62 1044.5 41.25 1046 39.5 C1047.5 37.75 1048.13 34.23 1049 32 C1049.87 29.77 1050.83 27.08 1051.2 26.1" stroke="#1d50b2" stroke-width="1.2" fill="none" stroke-linejoin="round" stroke-linecap="round"/>
<path d="M859.1 177.9 C859.17 174.92 859.32 164.6 859.5 160 C859.68 155.4 859.23 152.25 860.2 150.3 C861.17 148.36 863 149.35 865.3 148.33 C867.6 147.31 871.05 145.9 874 144.19 C876.95 142.48 880.2 140.03 882.99 138.07 C885.78 136.11 888.57 134.32 890.76 132.44 C892.95 130.56 894.12 128.9 896.13 126.8 C898.14 124.7 900.81 122.07 902.85 119.87 C904.89 117.67 906.16 116.17 908.37 113.6 C910.58 111.02 912.66 107.69 916.1 104.42 C919.54 101.15 924.27 97.65 929.03 93.98 C933.79 90.31 939.2 86.43 944.67 82.38 C950.14 78.33 956.14 73.64 961.83 69.67 C967.52 65.7 971.1 61.73 978.8 58.57 C986.5 55.41 996.1 53.29 1008.05 50.74 C1020 48.19 1040.97 45.02 1050.5 43.25 C1060.03 41.48 1062.2 41.88 1065.2 40.1 C1068.2 38.33 1067.58 34.93 1068.5 32.6 C1069.42 30.27 1070.33 27.18 1070.7 26.1" stroke="#1d50b2" stroke-width="1.2" fill="none" stroke-linejoin="round" stroke-linecap="round"/>
<path d="M859.1 177.9 C859.17 174.92 859.32 164.6 859.5 160 C859.68 155.4 859.2 152.18 860.2 150.3 C861.2 148.42 863.18 149.54 865.48 148.71 C867.78 147.88 870.95 146.8 874 145.32 C877.05 143.85 880.66 141.68 883.76 139.85 C886.86 138.03 890.11 136.14 892.6 134.38 C895.08 132.63 896.22 131.41 898.67 129.32 C901.11 127.23 904.72 124.09 907.26 121.83 C909.8 119.57 911.44 118.14 913.93 115.76 C916.43 113.38 918.59 110.62 922.22 107.55 C925.85 104.48 930.89 100.88 935.71 97.33 C940.53 93.78 945.79 90.07 951.13 86.27 C956.48 82.47 962.28 78.23 967.79 74.51 C973.3 70.79 976.66 67.32 984.2 63.95 C991.74 60.58 1000.9 57.68 1013 54.3 C1025.1 50.93 1046.18 46.01 1056.8 43.7 C1067.42 41.39 1072.82 42.25 1076.72 40.46 C1080.62 38.67 1079.25 35.35 1080.2 32.96 C1081.15 30.57 1082.03 27.24 1082.4 26.1" stroke="#1d50b2" stroke-width="1.2" fill="none" stroke-linejoin="round" stroke-linecap="round"/>
<path d="M859.1 177.9 C859.17 174.92 859.32 164.6 859.5 160 C859.68 155.4 859.18 152.13 860.2 150.3 C861.22 148.47 863.32 149.68 865.62 149 C867.92 148.32 870.88 147.5 874 146.21 C877.12 144.91 881.03 142.96 884.37 141.24 C887.7 139.52 891.31 137.56 894.02 135.9 C896.74 134.24 897.86 133.37 900.64 131.28 C903.42 129.19 907.75 125.66 910.69 123.36 C913.63 121.05 915.54 119.67 918.26 117.44 C920.97 115.21 923.21 112.91 926.98 109.99 C930.75 107.07 936.04 103.38 940.9 99.93 C945.77 96.48 950.9 92.9 956.16 89.29 C961.41 85.68 967.05 81.8 972.42 78.28 C977.8 74.75 981 71.67 988.4 68.14 C995.8 64.6 1004.63 61.09 1016.85 57.08 C1029.07 53.06 1050.23 46.77 1061.7 44.05 C1073.17 41.33 1081.08 42.54 1085.68 40.74 C1090.28 38.94 1088.33 35.68 1089.3 33.24 C1090.27 30.8 1091.13 27.29 1091.5 26.1" stroke="#1d50b2" stroke-width="1.2" fill="none" stroke-linejoin="round" stroke-linecap="round"/>
<path d="M859.1 177.9 C859.17 174.92 859.32 164.6 859.5 160 C859.68 155.4 859.16 152.09 860.2 150.3 C861.24 148.51 863.44 149.81 865.74 149.25 C868.04 148.7 870.81 148.1 874 146.96 C877.19 145.82 881.34 144.05 884.88 142.43 C888.42 140.8 892.34 138.77 895.25 137.19 C898.16 135.61 899.27 135.05 902.33 132.96 C905.4 130.87 910.36 127.01 913.63 124.67 C916.9 122.32 919.06 120.98 921.97 118.88 C924.87 116.78 927.16 114.86 931.06 112.08 C934.96 109.29 940.45 105.53 945.35 102.16 C950.26 98.8 955.29 95.33 960.47 91.88 C965.64 88.44 971.14 84.87 976.39 81.51 C981.65 78.15 984.71 75.4 992 71.73 C999.29 68.05 1007.83 64.01 1020.15 59.45 C1032.47 54.89 1053.7 47.43 1065.9 44.35 C1078.1 41.27 1088.16 42.79 1093.36 40.98 C1098.56 39.17 1096.11 35.96 1097.1 33.48 C1098.09 31 1098.93 27.33 1099.3 26.1" stroke="#1d50b2" stroke-width="1.2" fill="none" stroke-linejoin="round" stroke-linecap="round"/>
<path d="M859.1 177.9 C859.17 174.92 859.32 164.6 859.5 160 C859.68 155.4 859.14 152.06 860.2 150.3 C861.26 148.54 863.53 149.9 865.83 149.44 C868.13 148.98 870.76 148.55 874 147.53 C877.24 146.51 881.57 144.88 885.27 143.32 C888.96 141.76 893.11 139.68 896.17 138.16 C899.22 136.65 900.32 136.31 903.6 134.22 C906.88 132.13 912.31 128.02 915.84 125.65 C919.36 123.27 921.7 121.96 924.75 119.96 C927.79 117.96 930.13 116.33 934.12 113.64 C938.11 110.95 943.76 107.14 948.69 103.84 C953.62 100.54 958.58 97.15 963.7 93.83 C968.81 90.51 974.21 87.16 979.37 83.93 C984.54 80.69 987.49 78.2 994.7 74.42 C1001.91 70.63 1010.23 66.21 1022.62 61.23 C1035.02 56.26 1056.3 47.92 1069.05 44.58 C1081.8 41.23 1093.47 42.98 1099.12 41.16 C1104.77 39.34 1101.94 36.17 1102.95 33.66 C1103.96 31.15 1104.78 27.36 1105.15 26.1" stroke="#1d50b2" stroke-width="1.2" fill="none" stroke-linejoin="round" stroke-linecap="round"/>
<path d="M859.1 177.9 C859.17 174.92 859.32 164.6 859.5 160 C859.68 155.4 859.13 152.04 860.2 150.3 C861.27 148.56 863.6 149.98 865.9 149.59 C868.2 149.2 870.72 148.9 874 147.97 C877.28 147.04 881.76 145.52 885.57 144.01 C889.38 142.5 893.71 140.39 896.88 138.92 C900.05 137.45 901.14 137.28 904.59 135.2 C908.04 133.11 913.83 128.81 917.55 126.41 C921.27 124.01 923.75 122.72 926.91 120.8 C930.07 118.88 932.44 117.47 936.5 114.86 C940.56 112.25 946.34 108.39 951.29 105.14 C956.24 101.89 961.14 98.56 966.21 95.34 C971.28 92.12 976.59 88.95 981.69 85.81 C986.79 82.67 989.66 80.38 996.8 76.51 C1003.94 72.65 1012.1 67.91 1024.55 62.62 C1037 57.33 1058.33 48.3 1071.5 44.75 C1084.67 41.2 1097.6 43.12 1103.6 41.3 C1109.6 39.47 1106.48 36.33 1107.5 33.8 C1108.52 31.27 1109.33 27.38 1109.7 26.1" stroke="#1d50b2" stroke-width="1.2" fill="none" stroke-linejoin="round" stroke-linecap="round"/>
<path d="M859.1 177.9 C859.17 174.92 859.32 164.6 859.5 160 C859.68 155.4 859.12 152.02 860.2 150.3 C861.28 148.58 863.65 150.03 865.95 149.7 C868.25 149.36 870.69 149.15 874 148.28 C877.31 147.42 881.89 145.98 885.78 144.5 C889.68 143.03 894.14 140.89 897.39 139.46 C900.64 138.03 901.73 137.98 905.29 135.9 C908.86 133.82 914.91 129.37 918.77 126.95 C922.63 124.54 925.22 123.27 928.46 121.4 C931.69 119.53 934.08 118.28 938.2 115.73 C942.31 113.17 948.18 109.29 953.14 106.07 C958.11 102.85 962.97 99.57 968 96.42 C973.04 93.27 978.3 90.22 983.35 87.16 C988.39 84.09 991.2 81.93 998.3 78 C1005.4 74.08 1013.43 69.13 1025.92 63.61 C1038.42 58.09 1059.77 48.58 1073.25 44.88 C1086.73 41.17 1100.55 43.23 1106.8 41.4 C1113.05 39.57 1109.72 36.45 1110.75 33.9 C1111.78 31.35 1112.58 27.4 1112.95 26.1" stroke="#1d50b2" stroke-width="1.2" fill="none" stroke-linejoin="round" stroke-linecap="round"/>
<path d="M859.1 177.9 C859.17 174.92 859.32 164.6 859.5 160 C859.68 155.4 859.12 152 860.2 150.3 C861.28 148.6 863.7 150.08 866 149.8 C868.3 149.52 870.67 149.4 874 148.6 C877.33 147.8 882.02 146.43 886 145 C889.98 143.57 894.57 141.4 897.9 140 C901.23 138.6 902.32 138.68 906 136.6 C909.68 134.52 916 129.93 920 127.5 C924 125.07 926.68 123.82 930 122 C933.32 120.18 935.73 119.1 939.9 116.6 C944.07 114.1 950.02 110.18 955 107 C959.98 103.82 964.8 100.58 969.8 97.5 C974.8 94.42 980 91.5 985 88.5 C990 85.5 992.75 83.48 999.8 79.5 C1006.85 75.52 1014.77 70.35 1027.3 64.6 C1039.83 58.85 1061.22 48.85 1075 45 C1088.78 41.15 1103.5 43.33 1110 41.5 C1116.5 39.67 1112.97 36.57 1114 34 C1115.03 31.43 1115.83 27.42 1116.2 26.1" stroke="#1d50b2" stroke-width="1.2" fill="none" stroke-linejoin="round" stroke-linecap="round"/>
<path d="M859.1 122.8 C859.13 120.67 859.13 113.97 859.3 110 C859.47 106.03 859.57 102.5 860.1 99 C860.63 95.5 861.52 91.92 862.5 89 C863.48 86.08 864.48 84.25 866 81.5 C867.52 78.75 869.07 76 871.6 72.5 C874.13 69 878.02 63.87 881.2 60.5 C884.38 57.13 887.57 54.22 890.7 52.3 C893.83 50.38 896.8 49.83 900 49 C903.2 48.17 903.45 48.03 909.9 47.3 C916.35 46.57 933.02 45.38 938.7 44.6 C944.38 43.82 938.08 43.32 944 42.6 C949.92 41.88 968.02 41.18 974.2 40.3 C980.38 39.42 979.1 38.8 981.1 37.3 C983.1 35.8 984.22 32.88 986.2 31.3 C988.18 29.72 989.87 28.58 993 27.8 C996.13 27.02 1001 26.88 1005 26.6 C1009 26.32 1015 26.18 1017 26.1" stroke="#1d50b2" stroke-width="1.2" fill="none" stroke-linejoin="round" stroke-linecap="round"/>
<path d="M672.2 199.1 H720.5" stroke="#333" stroke-width="1.4"/>
<path d="M725.5 199.1 L719 196.5 L719 201.7 Z" fill="#222"/>
<text x="652" y="196.2" font-size="11.5" font-weight="normal" text-anchor="start" fill="#333">1st</text>
<text x="727.6" y="196.2" font-size="11.5" font-weight="normal" text-anchor="start" fill="#333">10th</text>
<path d="M990.9 198.2 H1113.5" stroke="#333" stroke-width="1.4"/>
<path d="M1118.5 198.2 L1112 195.6 L1112 200.8 Z" fill="#222"/>
<text x="981.4" y="192.2" font-size="11.5" font-weight="normal" text-anchor="start" fill="#333">1st</text>
<text x="1111.1" y="191.8" font-size="11.5" font-weight="normal" text-anchor="start" fill="#333">10th</text>
<path d="M73.6 319.6 C73.75 320.08 74.1 321.77 74.5 322.5 C74.9 323.23 73.48 323.47 76 324 C78.52 324.53 83.25 325.22 89.6 325.7 C95.95 326.18 105.92 326.42 114.1 326.9 C122.28 327.38 130.52 328.07 138.7 328.6 C146.88 329.13 156.25 329.62 163.2 330.1 C170.15 330.58 175.48 331.22 180.4 331.5 C185.32 331.78 189.43 330.93 192.7 331.8 C195.97 332.67 197.95 333.42 200 336.7 C202.05 339.98 203.35 347 205 351.5 C206.65 356 208.23 360.62 209.9 363.7 C211.57 366.78 213.37 367.95 215 370 C216.63 372.05 218.1 371.32 219.7 376 C221.3 380.68 222.97 390.73 224.6 398.1 C226.23 405.47 227.03 414.05 229.5 420.2 C231.97 426.35 236.53 430.3 239.4 435 C242.27 439.7 242.22 445.87 246.7 448.4 C251.18 450.93 258.93 449.17 266.3 450.2 C273.67 451.23 283.93 452.63 290.9 454.6 C297.87 456.57 303.2 458.73 308.1 462 C313 465.27 317.23 470.93 320.3 474.2 C323.37 477.47 325.47 480.37 326.5 481.6" stroke="#1c50a8" stroke-width="2.3" fill="none" stroke-linejoin="round" stroke-linecap="round"/>
<path d="M73.6 449.7 C73.72 448.08 74.1 442.67 74.3 440 C74.5 437.33 74.3 434.95 74.8 433.7 C75.3 432.45 72.8 432.78 77.3 432.5 C81.8 432.22 94.85 432.42 101.8 432 C108.75 431.58 114.08 431.15 119 430 C123.92 428.85 128.22 427.27 131.3 425.1 C134.38 422.93 135.88 420.35 137.5 417 C139.12 413.65 139.83 409.17 141 405 C142.17 400.83 143.25 396.22 144.5 392 C145.75 387.78 146.62 383.18 148.5 379.7 C150.38 376.22 153.35 373.77 155.8 371.1 C158.25 368.43 160.73 366.97 163.2 363.7 C165.67 360.43 168.15 356 170.6 351.5 C173.05 347 175.45 339.98 177.9 336.7 C180.35 333.42 182.83 333.02 185.3 331.8 C187.77 330.58 187.75 330.42 192.7 329.4 C197.65 328.38 207.22 326.32 215 325.7 C222.78 325.08 230.85 326.32 239.4 325.7 C247.95 325.08 253.63 322.9 266.3 322 C278.97 321.1 304.75 321.12 315.4 320.3 C326.05 319.48 326.32 319.27 330.2 317.1 C334.08 314.93 337.28 308.93 338.7 307.3" stroke="#1c50a8" stroke-width="2.3" fill="none" stroke-linejoin="round" stroke-linecap="round"/>
<path d="M73.6 319.6 C73.75 320.08 74.1 321.77 74.5 322.5 C74.9 323.23 73.48 323.47 76 324 C78.52 324.53 83.25 325.22 89.6 325.7 C95.95 326.18 105.92 326.42 114.1 326.9 C122.28 327.38 130.52 328.07 138.7 328.6 C146.88 329.13 156.25 329.57 163.2 330.1 C170.15 330.63 176.3 330.9 180.4 331.8 C184.5 332.7 185.75 333.03 187.8 335.5 C189.85 337.97 191.27 342.72 192.7 346.6 C194.13 350.48 194.77 355.53 196.4 358.8 C198.03 362.07 200.73 364.42 202.5 366.2 C204.27 367.98 205.35 367.45 207 369.5 C208.65 371.55 210.98 374.55 212.4 378.5 C213.82 382.45 214.68 386.65 215.5 393.2 C216.32 399.75 216.18 410.83 217.3 417.8 C218.42 424.77 219.55 429.77 222.2 435 C224.85 440.23 227.88 446.55 233.2 449.2 C238.52 451.85 246.53 449.8 254.1 450.9 C261.67 452 272.07 453.95 278.6 455.8 C285.13 457.65 289.2 458.93 293.3 462 C297.4 465.07 300.53 470.93 303.2 474.2 C305.87 477.47 308.28 480.37 309.3 481.6" stroke="#5b8b26" stroke-width="2.3" fill="none" stroke-linejoin="round" stroke-linecap="round"/>
<path d="M73.6 449.7 C73.72 448.08 74.1 442.67 74.3 440 C74.5 437.33 74.3 434.95 74.8 433.7 C75.3 432.45 72.8 432.78 77.3 432.5 C81.8 432.22 94.85 432.42 101.8 432 C108.75 431.58 114.08 431.15 119 430 C123.92 428.85 128.02 427.55 131.3 425.1 C134.58 422.65 136.65 419.8 138.7 415.3 C140.75 410.8 141.97 404.03 143.6 398.1 C145.23 392.17 146.47 384.2 148.5 379.7 C150.53 375.2 153.35 373.77 155.8 371.1 C158.25 368.43 160.73 366.97 163.2 363.7 C165.67 360.43 168.15 356 170.6 351.5 C173.05 347 175.45 339.98 177.9 336.7 C180.35 333.42 182.83 333.02 185.3 331.8 C187.77 330.58 187.75 330.42 192.7 329.4 C197.65 328.38 208.87 326.43 215 325.7 C221.13 324.97 222.98 325.62 229.5 325 C236.02 324.38 245.92 322.7 254.1 322 C262.28 321.3 270.42 321.2 278.6 320.8 C286.78 320.4 297.47 320.42 303.2 319.6 C308.93 318.78 310.15 317.87 313 315.9 C315.85 313.93 319.08 309.15 320.3 307.8" stroke="#5b8b26" stroke-width="2.3" fill="none" stroke-linejoin="round" stroke-linecap="round"/>
<path d="M476.8 320.8 C476.93 321.33 477.12 323.07 477.6 324 C478.08 324.93 475.67 325.78 479.7 326.4 C483.73 327.02 494.02 327.08 501.8 327.7 C509.58 328.32 519.03 329.2 526.4 330.1 C533.77 331 541.1 331.78 546 333.1 C550.9 334.42 552.93 335.75 555.8 338 C558.67 340.25 560.73 343.13 563.2 346.6 C565.67 350.07 567.73 354.72 570.6 358.8 C573.47 362.88 577.95 367.82 580.4 371.1 C582.85 374.38 583.67 374.82 585.3 378.5 C586.93 382.18 588.15 388.3 590.2 393.2 C592.25 398.1 595.13 404.62 597.6 407.9 C600.07 411.18 599.68 410.23 605 412.9 C610.32 415.57 621.32 420.22 629.5 423.9 C637.68 427.58 646.73 431.93 654.1 435 C661.47 438.07 668.38 439.85 673.7 442.3 C679.02 444.75 680.27 447.85 686 449.7 C691.73 451.55 701.97 451.77 708.1 453.4 C714.23 455.03 718.72 456.85 722.8 459.5 C726.88 462.15 729.33 465.42 732.6 469.3 C735.87 473.18 740.77 480.55 742.4 482.8" stroke="#1c50a8" stroke-width="2.3" fill="none" stroke-linejoin="round" stroke-linecap="round"/>
<path d="M476.8 457 C476.92 455 477.22 448.47 477.5 445 C477.78 441.53 477.72 437.95 478.5 436.2 C479.28 434.45 476.27 435 482.2 434.5 C488.13 434 505.52 434.15 514.1 433.2 C522.68 432.25 527.57 430.97 533.7 428.8 C539.83 426.63 545.98 423.88 550.9 420.2 C555.82 416.52 559.92 411.2 563.2 406.7 C566.48 402.2 567.33 397.9 570.6 393.2 C573.87 388.5 578.72 382.18 582.8 378.5 C586.88 374.82 591.4 374.78 595.1 371.1 C598.8 367.42 601.3 360.9 605 356.4 C608.7 351.9 613.22 347.38 617.3 344.1 C621.38 340.82 623.37 339.15 629.5 336.7 C635.63 334.25 645.92 331.03 654.1 329.4 C662.28 327.77 671.23 327.4 678.6 326.9 C685.97 326.4 693.38 326.93 698.3 326.4 C703.22 325.87 701.15 324.43 708.1 323.7 C715.05 322.97 732.65 322.9 740 322 C747.35 321.1 749.35 320.35 752.2 318.3 C755.05 316.25 756.28 311.13 757.1 309.7" stroke="#1c50a8" stroke-width="2.3" fill="none" stroke-linejoin="round" stroke-linecap="round"/>
<path d="M476.8 320.8 C476.93 321.33 477.12 323.07 477.6 324 C478.08 324.93 475.67 325.78 479.7 326.4 C483.73 327.02 494.02 327.08 501.8 327.7 C509.58 328.32 519.03 329.2 526.4 330.1 C533.77 331 541.92 332 546 333.1 C550.08 334.2 548.85 334.05 550.9 336.7 C552.95 339.35 555.83 345.1 558.3 349 C560.77 352.9 562.83 356.62 565.7 360.1 C568.57 363.58 572.65 366.83 575.5 369.9 C578.35 372.97 580.97 375.43 582.8 378.5 C584.63 381.57 585.27 382.98 586.5 388.3 C587.73 393.62 588.77 405.08 590.2 410.4 C591.63 415.72 592.63 417.75 595.1 420.2 C597.57 422.65 600.08 422.63 605 425.1 C609.92 427.57 618.47 432.33 624.6 435 C630.73 437.67 636.48 439.47 641.8 441.1 C647.12 442.73 652.42 443.17 656.5 444.8 C660.58 446.43 660.57 449.27 666.3 450.9 C672.03 452.53 684.35 453.17 690.9 454.6 C697.45 456.03 701.92 457.05 705.6 459.5 C709.28 461.95 710.33 465.42 713 469.3 C715.67 473.18 720.17 480.55 721.6 482.8" stroke="#5b8b26" stroke-width="2.3" fill="none" stroke-linejoin="round" stroke-linecap="round"/>
<path d="M476.8 457 C476.92 455 477.22 448.47 477.5 445 C477.78 441.53 477.72 437.95 478.5 436.2 C479.28 434.45 476.27 435 482.2 434.5 C488.13 434 505.52 433.95 514.1 433.2 C522.68 432.45 527.57 431.55 533.7 430 C539.83 428.45 546.38 426.75 550.9 423.9 C555.42 421.05 558.33 416.78 560.8 412.9 C563.27 409.02 563.67 405.12 565.7 400.6 C567.73 396.08 570.15 389.48 573 385.8 C575.85 382.12 578.7 381.77 582.8 378.5 C586.9 375.23 593.9 369.27 597.6 366.2 C601.3 363.13 602.13 363.78 605 360.1 C607.87 356.42 610.72 348.6 614.8 344.1 C618.88 339.6 622.95 335.97 629.5 333.1 C636.05 330.23 645.92 328.13 654.1 326.9 C662.28 325.67 672.47 326.43 678.6 325.7 C684.73 324.97 684.77 323.2 690.9 322.5 C697.03 321.8 709.27 322.2 715.4 321.5 C721.53 320.8 724.42 320.27 727.7 318.3 C730.98 316.33 733.87 311.13 735.1 309.7" stroke="#5b8b26" stroke-width="2.3" fill="none" stroke-linejoin="round" stroke-linecap="round"/>
<path d="M861.8 329.4 C862.28 329.72 862.57 330.82 864.7 331.3 C866.83 331.78 870.92 331.72 874.6 332.3 C878.28 332.88 883.53 333.85 886.8 334.8 C890.07 335.75 892.15 336.03 894.2 338 C896.25 339.97 897.47 342.72 899.1 346.6 C900.73 350.48 901.55 356.8 904 361.3 C906.45 365.8 909.7 369.52 913.8 373.6 C917.9 377.68 923.68 381.72 928.6 385.8 C933.52 389.88 937.98 394.42 943.3 398.1 C948.62 401.78 953.95 404.62 960.5 407.9 C967.05 411.18 976.02 415.13 982.6 417.8 C989.18 420.47 994.68 422.27 1000 423.9 C1005.32 425.53 1007.98 425.97 1014.5 427.6 C1021.02 429.23 1030.92 431.65 1039.1 433.7 C1047.28 435.75 1057.47 438.27 1063.6 439.9 C1069.73 441.53 1073.03 441.78 1075.9 443.5 C1078.77 445.22 1078.75 448.85 1080.8 450.2 C1082.85 451.55 1084.93 450.87 1088.2 451.6 C1091.47 452.33 1097.13 453.28 1100.4 454.6 C1103.67 455.92 1105.95 457.05 1107.8 459.5 C1109.65 461.95 1110.68 466.23 1111.5 469.3 C1112.32 472.37 1112.5 476.47 1112.7 477.9" stroke="#1c50a8" stroke-width="2.3" fill="none" stroke-linejoin="round" stroke-linecap="round"/>
<path d="M861.8 432.5 C862.28 432.7 862.57 433.7 864.7 433.7 C866.83 433.7 868.87 434.13 874.6 432.5 C880.33 430.87 890.92 426.77 899.1 423.9 C907.28 421.03 916.33 418.57 923.7 415.3 C931.07 412.03 937.98 407.57 943.3 404.3 C948.62 401.03 951.5 398.17 955.6 395.7 C959.7 393.23 963.82 391.35 967.9 389.5 C971.98 387.65 976.42 386.23 980.1 384.6 C983.78 382.97 986.3 381.33 990 379.7 C993.7 378.07 998.22 376.63 1002.3 374.8 C1006.38 372.97 1008.37 371.77 1014.5 368.7 C1020.63 365.63 1030.92 360.92 1039.1 356.4 C1047.28 351.88 1057.47 345.08 1063.6 341.6 C1069.73 338.12 1071.8 336.92 1075.9 335.5 C1080 334.08 1083.7 333.72 1088.2 333.1 C1092.7 332.48 1099.23 332.5 1102.9 331.8 C1106.57 331.1 1106.12 329.52 1110.2 328.9 C1114.28 328.28 1123.5 328.83 1127.4 328.1 C1131.3 327.37 1131.75 326.75 1133.6 324.5 C1135.45 322.25 1137.68 316.25 1138.5 314.6" stroke="#1c50a8" stroke-width="2.3" fill="none" stroke-linejoin="round" stroke-linecap="round"/>
<path d="M861.8 328.1 C862.28 328.93 862.57 331.87 864.7 333.1 C866.83 334.33 870.92 334.68 874.6 335.5 C878.28 336.32 882.72 336.57 886.8 338 C890.88 339.43 895 340.42 899.1 344.1 C903.2 347.78 907.3 354.78 911.4 360.1 C915.5 365.42 920.83 372.12 923.7 376 C926.57 379.88 927.18 379.72 928.6 383.4 C930.02 387.08 930.98 393.4 932.2 398.1 C933.42 402.8 934.05 408.53 935.9 411.6 C937.75 414.67 939.2 414.87 943.3 416.5 C947.4 418.13 953.95 419.55 960.5 421.4 C967.05 423.25 976.02 425.95 982.6 427.6 C989.18 429.25 994.68 430.07 1000 431.3 C1005.32 432.53 1007.98 433.78 1014.5 435 C1021.02 436.22 1030.92 437.72 1039.1 438.6 C1047.28 439.48 1057.05 439.68 1063.6 440.3 C1070.15 440.92 1074.92 440.82 1078.4 442.3 C1081.88 443.78 1081.65 447.35 1084.5 449.2 C1087.35 451.05 1092.43 451.88 1095.5 453.4 C1098.57 454.92 1100.85 455.65 1102.9 458.3 C1104.95 460.95 1106.58 465.62 1107.8 469.3 C1109.02 472.98 1109.8 478.55 1110.2 480.4" stroke="#5b8b26" stroke-width="2.3" fill="none" stroke-linejoin="round" stroke-linecap="round"/>
<path d="M861.8 449.7 C861.92 448.42 862.22 444.45 862.5 442 C862.78 439.55 862.32 436.38 863.5 435 C864.68 433.62 865.72 434.12 869.6 433.7 C873.48 433.28 879.83 433.72 886.8 432.5 C893.77 431.28 904.03 428.85 911.4 426.4 C918.77 423.95 925.68 420.88 931 417.8 C936.32 414.72 939.62 411.18 943.3 407.9 C946.98 404.62 949.42 401.37 953.1 398.1 C956.78 394.83 960.48 390.95 965.4 388.3 C970.32 385.65 978.5 383.63 982.6 382.2 C986.7 380.77 986.72 381.13 990 379.7 C993.28 378.27 998.22 376.05 1002.3 373.6 C1006.38 371.15 1010.42 368.28 1014.5 365 C1018.58 361.72 1022.7 356.97 1026.8 353.9 C1030.9 350.83 1035.02 349.05 1039.1 346.6 C1043.18 344.15 1047.22 341.25 1051.3 339.2 C1055.38 337.15 1059.5 335.53 1063.6 334.3 C1067.7 333.07 1071.8 332.62 1075.9 331.8 C1080 330.98 1084.12 330.22 1088.2 329.4 C1092.28 328.58 1096.32 327.93 1100.4 326.9 C1104.48 325.87 1109.02 324.63 1112.7 323.2 C1116.38 321.77 1119.63 319.8 1122.5 318.3 C1125.37 316.8 1128.67 314.88 1129.9 314.2" stroke="#5b8b26" stroke-width="2.3" fill="none" stroke-linejoin="round" stroke-linecap="round"/>
<rect x="953.6" y="288.5" width="92.8" height="31.9" fill="#fff" stroke="#8a8a8a" stroke-width="1"/>
<path d="M957.5 297.7 H982.1" stroke="#1c50a8" stroke-width="2.3"/>
<path d="M957.5 313.7 H982.1" stroke="#5b8b26" stroke-width="2.3"/>
<text x="985.6" y="301" font-size="12.9" font-weight="normal" text-anchor="start" fill="#333">10th cycle</text>
<text x="985.6" y="316.8" font-size="12.9" font-weight="normal" text-anchor="start" fill="#333">50th cycle</text>
<path d="M71.3 600.9 C71.38 601.51 71.47 603.57 71.75 604.56 C72.03 605.55 72.33 606.41 73 606.85 C73.67 607.29 73.55 606.84 75.8 607.2 C78.05 607.56 80.62 608.53 86.5 609 C92.38 609.47 102.92 609.52 111.1 610 C119.28 610.48 127.42 611.38 135.6 611.9 C143.78 612.42 153.25 612.48 160.2 613.1 C167.15 613.72 173.22 614.37 177.3 615.6 C181.38 616.83 182.65 617.83 184.7 620.5 C186.75 623.17 187.97 627.72 189.6 631.6 C191.23 635.48 192.45 640.33 194.5 643.8 C196.55 647.27 199.45 650.28 201.9 652.4 C204.35 654.52 207.47 653.02 209.2 656.5 C210.93 659.98 211.38 667.23 212.3 673.3 C213.22 679.37 213.68 687.58 214.7 692.9 C215.72 698.22 216.77 701.52 218.4 705.2 C220.03 708.88 221.43 710.82 224.5 715 C227.57 719.18 230.67 727.43 236.8 730.3 C242.93 733.17 253.12 731.07 261.3 732.2 C269.48 733.33 278.93 735.05 285.9 737.1 C292.87 739.15 298.2 741.63 303.1 744.5 C308 747.37 311.42 750.82 315.3 754.3 C319.18 757.78 324.55 763.55 326.4 765.4" stroke="#1c50a8" stroke-width="2.4" fill="none" stroke-linejoin="round" stroke-linecap="round"/>
<path d="M71.3 603.3 C71.38 603.87 71.47 605.8 71.75 606.72 C72.03 607.64 72.33 608.44 73 608.85 C73.67 609.26 73.55 608.86 75.8 609.17 C78.05 609.48 80.62 610.33 86.5 610.7 C92.38 611.07 102.92 611 111.1 611.4 C119.28 611.8 127.42 612.6 135.6 613.1 C143.78 613.6 152.83 613.78 160.2 614.4 C167.57 615.02 174.9 615.58 179.8 616.8 C184.7 618.02 187.15 619.65 189.6 621.7 C192.05 623.75 192.87 625.42 194.5 629.1 C196.13 632.78 197.35 640.12 199.4 643.8 C201.45 647.48 204.35 648.95 206.8 651.2 C209.25 653.45 212.37 655.25 214.1 657.3 C215.83 659.35 216.07 659.2 217.2 663.5 C218.33 667.8 219.68 674.92 220.9 683.1 C222.12 691.28 221.85 704.82 224.5 712.6 C227.15 720.38 230.67 726.12 236.8 729.8 C242.93 733.48 253.93 732.67 261.3 734.7 C268.67 736.73 275.67 739.55 281 742 C286.33 744.45 289.02 745.63 293.3 749.4 C297.58 753.17 304.47 762.07 306.7 764.6" stroke="#5b8b26" stroke-width="2.4" fill="none" stroke-linejoin="round" stroke-linecap="round"/>
<path d="M71.3 607 C71.38 607.49 71.47 609.15 71.75 609.94 C72.03 610.73 72.33 611.39 73 611.75 C73.67 612.11 73.55 611.74 75.8 612.1 C78.05 612.46 80.62 613.32 86.5 613.9 C92.38 614.48 102.92 615.12 111.1 615.6 C119.28 616.08 127.42 616.18 135.6 616.8 C143.78 617.42 153.25 618.27 160.2 619.3 C167.15 620.33 172.8 621.37 177.3 623 C181.8 624.63 184.33 626.45 187.2 629.1 C190.07 631.75 192.05 635.22 194.5 638.9 C196.95 642.58 199.45 648.33 201.9 651.2 C204.35 654.07 207.07 654.05 209.2 656.1 C211.33 658.15 212.97 660.63 214.7 663.5 C216.43 666.37 218.17 668.4 219.6 673.3 C221.03 678.2 222.07 684.3 223.3 692.9 C224.53 701.5 224.75 717.32 227 724.9 C229.25 732.48 231.9 735.33 236.8 738.4 C241.7 741.47 250.67 741.05 256.4 743.3 C262.13 745.55 266.48 748.22 271.2 751.9 C275.92 755.58 282.45 763.15 284.7 765.4" stroke="#f0a92a" stroke-width="2.4" fill="none" stroke-linejoin="round" stroke-linecap="round"/>
<path d="M71.8 619.3 C71.88 619.74 71.97 621.23 72.25 621.94 C72.53 622.65 72.83 623.2 73.5 623.55 C74.17 623.9 74.13 623.59 76.3 624.03 C78.47 624.47 80.7 625.44 86.5 626.2 C92.3 626.96 102.92 627.83 111.1 628.6 C119.28 629.37 128.23 629.9 135.6 630.8 C142.97 631.7 149.97 632.7 155.3 634 C160.63 635.3 163.82 636.52 167.6 638.6 C171.38 640.68 174.8 643.98 178 646.5 C181.2 649.02 183.38 650.55 186.8 653.7 C190.22 656.85 195.3 662.43 198.5 665.4 C201.7 668.37 204 669.57 206 671.5 C208 673.43 209.2 674.75 210.5 677 C211.8 679.25 212.43 680.5 213.8 685 C215.17 689.5 217.08 696.92 218.7 704 C220.32 711.08 221.92 720.33 223.5 727.5 C225.08 734.67 225.98 742.73 228.2 747 C230.42 751.27 233.73 751.07 236.8 753.1 C239.87 755.13 243.73 757.15 246.6 759.2 C249.47 761.25 252.77 764.37 254 765.4" stroke="#c8431e" stroke-width="2.4" fill="none" stroke-linejoin="round" stroke-linecap="round"/>
<path d="M474.3 600.1 C474.38 600.79 474.47 603.12 474.75 604.24 C475.03 605.37 475.32 606.35 476 606.85 C476.68 607.35 476.55 606.8 478.8 607.25 C481.05 607.69 483.62 608.72 489.5 609.5 C495.38 610.28 506.73 611.3 514.1 611.9 C521.47 612.5 528.8 612.28 533.7 613.1 C538.6 613.92 541.05 615.15 543.5 616.8 C545.95 618.45 546.35 620.13 548.4 623 C550.45 625.87 553.33 630.53 555.8 634 C558.27 637.47 560.75 640.52 563.2 643.8 C565.65 647.08 568.05 650.83 570.5 653.7 C572.95 656.57 576.27 658.15 577.9 661 C579.53 663.85 579.08 665.88 580.3 670.8 C581.52 675.72 583.15 685.78 585.2 690.5 C587.25 695.22 588.92 696.23 592.6 699.1 C596.28 701.97 604.4 706.07 607.3 707.7 C610.2 709.33 605.47 706.65 610 708.9 C614.53 711.15 627.55 718.33 634.5 721.2 C641.45 724.07 647.2 724.47 651.7 726.1 C656.2 727.73 656.18 729.77 661.5 731 C666.82 732.23 677.05 732.48 683.6 733.5 C690.15 734.52 696.3 735.27 700.8 737.1 C705.3 738.93 707.73 741.63 710.6 744.5 C713.47 747.37 714.93 750.73 718 754.3 C721.07 757.87 727.17 763.97 729 765.9" stroke="#1c50a8" stroke-width="2.4" fill="none" stroke-linejoin="round" stroke-linecap="round"/>
<path d="M474.3 603.3 C474.38 603.79 474.47 605.45 474.75 606.24 C475.03 607.03 475.32 607.68 476 608.05 C476.68 608.42 476.55 608 478.8 608.45 C481.05 608.89 483.62 609.92 489.5 610.7 C495.38 611.48 506.73 612.48 514.1 613.1 C521.47 613.72 528.8 613.57 533.7 614.4 C538.6 615.23 540.63 616.07 543.5 618.1 C546.37 620.13 548.43 623.53 550.9 626.6 C553.37 629.67 555.85 632.82 558.3 636.5 C560.75 640.18 562.33 644.82 565.6 648.7 C568.87 652.58 575.03 656.12 577.9 659.8 C580.77 663.48 581.17 665.68 582.8 670.8 C584.43 675.92 586.07 685.17 587.7 690.5 C589.33 695.83 589.33 699.53 592.6 702.8 C595.87 706.07 604.4 708.47 607.3 710.1 C610.2 711.73 605.47 710.55 610 712.6 C614.53 714.65 627.55 719.95 634.5 722.4 C641.45 724.85 647.2 725.45 651.7 727.3 C656.2 729.15 656.58 731.87 661.5 733.5 C666.42 735.13 675.88 735.68 681.2 737.1 C686.52 738.52 689.72 739.53 693.4 742 C697.08 744.47 700.35 748 703.3 751.9 C706.25 755.8 709.8 763.15 711.1 765.4" stroke="#5b8b26" stroke-width="2.4" fill="none" stroke-linejoin="round" stroke-linecap="round"/>
<path d="M474.3 606.5 C474.38 606.92 474.47 608.35 474.75 609.02 C475.03 609.69 475.32 610.22 476 610.55 C476.68 610.88 476.55 610.46 478.8 611.01 C481.05 611.57 483.62 612.94 489.5 613.9 C495.38 614.86 507.13 615.9 514.1 616.8 C521.07 617.7 526.4 617.67 531.3 619.3 C536.2 620.93 539.83 623.73 543.5 626.6 C547.17 629.47 550.02 632.82 553.3 636.5 C556.58 640.18 559.52 645.02 563.2 648.7 C566.88 652.38 572.55 655.73 575.4 658.6 C578.25 661.47 578.45 660.58 580.3 665.9 C582.15 671.22 584.65 683.13 586.5 690.5 C588.35 697.87 588.75 705.6 591.4 710.1 C594.05 714.6 599.3 715.65 602.4 717.5 C605.5 719.35 604.65 719.15 610 721.2 C615.35 723.25 627.13 726.93 634.5 729.8 C641.87 732.67 648.47 736.15 654.2 738.4 C659.93 740.65 664.4 741.05 668.9 743.3 C673.4 745.55 677.52 748.22 681.2 751.9 C684.88 755.58 689.37 763.15 691 765.4" stroke="#f0a92a" stroke-width="2.4" fill="none" stroke-linejoin="round" stroke-linecap="round"/>
<path d="M474.8 619.3 C474.88 619.79 474.97 621.45 475.25 622.24 C475.53 623.03 475.82 623.66 476.5 624.05 C477.18 624.44 477.13 624.07 479.3 624.58 C481.47 625.09 483.7 625.93 489.5 627.1 C495.3 628.27 507.55 630.03 514.1 631.6 C520.65 633.17 524.72 634.47 528.8 636.5 C532.88 638.53 534.92 640.53 538.6 643.8 C542.28 647.07 546.8 652.42 550.9 656.1 C555 659.78 559.52 662.62 563.2 665.9 C566.88 669.18 570.55 672.12 573 675.8 C575.45 679.48 576.27 682.68 577.9 688 C579.53 693.32 581.17 701.55 582.8 707.7 C584.43 713.85 585.65 720.2 587.7 724.9 C589.75 729.6 591.83 733.05 595.1 735.9 C598.37 738.75 602.37 740.37 607.3 742 C612.23 743.63 619.35 743.85 624.7 745.7 C630.05 747.55 635.3 750.85 639.4 753.1 C643.5 755.35 646.22 757.15 649.3 759.2 C652.38 761.25 656.47 764.37 657.9 765.4" stroke="#c8431e" stroke-width="2.4" fill="none" stroke-linejoin="round" stroke-linecap="round"/>
<path d="M856.6 600.9 C856.68 601.56 856.77 603.78 857.05 604.86 C857.33 605.94 857.63 606.84 858.3 607.35 C858.98 607.86 858.73 607.34 861.1 607.9 C863.47 608.46 868.55 609.83 872.5 610.7 C876.45 611.57 881.52 611.87 884.8 613.1 C888.08 614.33 889.33 615.02 892.2 618.1 C895.07 621.18 898.73 627.1 902 631.6 C905.27 636.1 908.53 641.02 911.8 645.1 C915.07 649.18 919.15 652.63 921.6 656.1 C924.05 659.57 925.07 661.4 926.5 665.9 C927.93 670.4 928.57 679 930.2 683.1 C931.83 687.2 931.6 688.03 936.3 690.5 C941 692.97 950.62 695.25 958.4 697.9 C966.18 700.55 974.73 703.75 983 706.4 C991.27 709.05 1001.92 712.15 1008 713.8 C1014.08 715.45 1013.48 715.2 1019.5 716.3 C1025.52 717.4 1036.32 719.3 1044.1 720.4 C1051.88 721.5 1061.3 721.75 1066.2 722.9 C1071.1 724.05 1071.47 725.75 1073.5 727.3 C1075.53 728.85 1075.53 730.77 1078.4 732.2 C1081.27 733.63 1087.83 734.27 1090.7 735.9 C1093.57 737.53 1094.37 739.33 1095.6 742 C1096.83 744.67 1097.08 748 1098.1 751.9 C1099.12 755.8 1101.1 763.15 1101.7 765.4" stroke="#1c50a8" stroke-width="2.4" fill="none" stroke-linejoin="round" stroke-linecap="round"/>
<path d="M856.6 603.3 C856.68 603.87 856.77 605.8 857.05 606.72 C857.33 607.64 857.63 608.41 858.3 608.85 C858.98 609.29 858.73 608.85 861.1 609.36 C863.47 609.87 868.55 611.06 872.5 611.9 C876.45 612.74 881.52 613.37 884.8 614.4 C888.08 615.43 889.33 615.23 892.2 618.1 C895.07 620.97 898.73 627.32 902 631.6 C905.27 635.88 908.12 639.3 911.8 643.8 C915.48 648.3 921.23 653.68 924.1 658.6 C926.97 663.52 927.57 667.78 929 673.3 C930.43 678.82 931.07 687.6 932.7 691.7 C934.33 695.8 934.52 696.05 938.8 697.9 C943.08 699.75 951.03 700.77 958.4 702.8 C965.77 704.83 974.73 707.65 983 710.1 C991.27 712.55 1001.92 716.07 1008 717.5 C1014.08 718.93 1013.48 717.97 1019.5 718.7 C1025.52 719.43 1036.32 720.8 1044.1 721.9 C1051.88 723 1061.7 723.58 1066.2 725.3 C1070.7 727.02 1069.07 730.43 1071.1 732.2 C1073.13 733.97 1075.95 734.67 1078.4 735.9 C1080.85 737.13 1083.75 737.35 1085.8 739.6 C1087.85 741.85 1089.15 745.1 1090.7 749.4 C1092.25 753.7 1094.37 762.73 1095.1 765.4" stroke="#5b8b26" stroke-width="2.4" fill="none" stroke-linejoin="round" stroke-linecap="round"/>
<path d="M856.6 607 C856.68 607.49 856.77 609.15 857.05 609.94 C857.33 610.73 857.63 611.35 858.3 611.75 C858.98 612.15 858.73 611.72 861.1 612.36 C863.47 613 868.55 614.44 872.5 615.6 C876.45 616.76 881.12 617.67 884.8 619.3 C888.48 620.93 891.33 622.33 894.6 625.4 C897.87 628.47 901.12 633.4 904.4 637.7 C907.68 642 911.43 647.32 914.3 651.2 C917.17 655.08 919.77 656.5 921.6 661 C923.43 665.5 924.07 671.23 925.3 678.2 C926.53 685.17 927.17 697.68 929 702.8 C930.83 707.92 931.4 706.87 936.3 708.9 C941.2 710.93 950.62 712.95 958.4 715 C966.18 717.05 974.73 719.62 983 721.2 C991.27 722.78 1001.92 723.68 1008 724.5 C1014.08 725.32 1013.48 725.02 1019.5 726.1 C1025.52 727.18 1037.97 728.95 1044.1 731 C1050.23 733.05 1052.62 736.15 1056.3 738.4 C1059.98 740.65 1063.73 741.85 1066.2 744.5 C1068.67 747.15 1069.55 750.73 1071.1 754.3 C1072.65 757.87 1074.77 763.97 1075.5 765.9" stroke="#f0a92a" stroke-width="2.4" fill="none" stroke-linejoin="round" stroke-linecap="round"/>
<path d="M857.1 618.1 C857.18 618.59 857.27 620.25 857.55 621.04 C857.83 621.83 858.13 622.43 858.8 622.85 C859.48 623.27 859.32 622.93 861.6 623.55 C863.88 624.18 868.63 625.06 872.5 626.6 C876.37 628.14 880.7 629.93 884.8 632.8 C888.9 635.67 893.02 639.5 897.1 643.8 C901.18 648.1 905.83 654.1 909.3 658.6 C912.77 663.1 915.85 665.48 917.9 670.8 C919.95 676.12 920.37 683.53 921.6 690.5 C922.83 697.47 923.67 707.08 925.3 712.6 C926.93 718.12 927.92 720.73 931.4 723.6 C934.88 726.47 939.65 727.95 946.2 729.8 C952.75 731.65 962.53 733.27 970.7 734.7 C978.87 736.13 988.7 736.97 995.2 738.4 C1001.7 739.83 1004.83 741.47 1009.7 743.3 C1014.57 745.13 1020.3 747.15 1024.4 749.4 C1028.5 751.65 1031.52 754.13 1034.3 756.8 C1037.08 759.47 1039.97 763.97 1041.1 765.4" stroke="#c8431e" stroke-width="2.4" fill="none" stroke-linejoin="round" stroke-linecap="round"/>
<rect x="1009.6" y="578.9" width="59.6" height="64.5" fill="#fff" stroke="#8a8a8a" stroke-width="1"/>
<path d="M1012.3 588.7 H1036.6" stroke="#1c50a8" stroke-width="2.4"/>
<path d="M1012.3 604.5 H1036.6" stroke="#5b8b26" stroke-width="2.4"/>
<path d="M1012.3 620.6 H1036.6" stroke="#f0a92a" stroke-width="2.4"/>
<path d="M1012.3 636.6 H1036.6" stroke="#c8431e" stroke-width="2.4"/>
<text x="1039.3" y="592.2" font-size="12.9" font-weight="normal" text-anchor="start" fill="#333">C/10</text>
<text x="1039.3" y="608" font-size="12.9" font-weight="normal" text-anchor="start" fill="#333">C/3</text>
<text x="1039.3" y="624.1" font-size="12.9" font-weight="normal" text-anchor="start" fill="#333">1C</text>
<text x="1039.3" y="640.1" font-size="12.9" font-weight="normal" text-anchor="start" fill="#333">3C</text>
</svg>
</body></html>
